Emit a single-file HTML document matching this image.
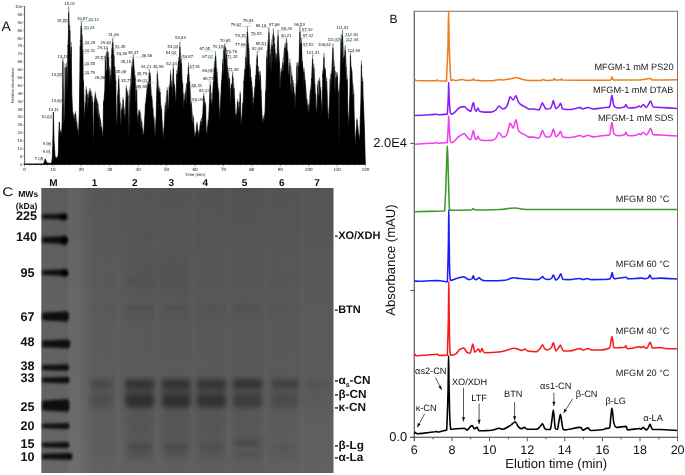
<!DOCTYPE html>
<html><head><meta charset="utf-8"><style>
html,body{margin:0;padding:0;background:#fff;}
svg{display:block;will-change:transform;text-rendering:geometricPrecision;}
</style></head><body>
<svg width="685" height="475" viewBox="0 0 685 475">
<rect width="685" height="475" fill="#fff"/>
<defs>
<linearGradient id="gh" x1="41.3" x2="333.5" y1="0" y2="0" gradientUnits="userSpaceOnUse"><stop offset="0.000" stop-color="#626262"/><stop offset="0.085" stop-color="#616161"/><stop offset="0.098" stop-color="#686868"/><stop offset="0.126" stop-color="#676767"/><stop offset="0.153" stop-color="#606060"/><stop offset="0.184" stop-color="#5c5c5c"/><stop offset="0.370" stop-color="#595959"/><stop offset="0.710" stop-color="#585858"/><stop offset="1.000" stop-color="#5a5a5a"/></linearGradient>
<linearGradient id="gv" x1="0" x2="0" y1="188" y2="473" gradientUnits="userSpaceOnUse"><stop offset="0" stop-color="#000" stop-opacity="0.06"/><stop offset="0.45" stop-color="#000" stop-opacity="0"/><stop offset="0.55" stop-color="#fff" stop-opacity="0"/><stop offset="1" stop-color="#fff" stop-opacity="0.035"/></linearGradient>
<radialGradient id="gr" cx="320" cy="440" r="60" gradientUnits="userSpaceOnUse"><stop offset="0" stop-color="#fff" stop-opacity="0.02"/><stop offset="1" stop-color="#fff" stop-opacity="0"/></radialGradient>
<filter id="b1" color-interpolation-filters="sRGB" x="-20%" y="-80%" width="140%" height="260%"><feGaussianBlur stdDeviation="1.3 1.5"/></filter>
<filter id="b2" color-interpolation-filters="sRGB" x="-30%" y="-100%" width="160%" height="300%"><feGaussianBlur stdDeviation="2.8 2.6"/></filter>
<filter id="b3" color-interpolation-filters="sRGB" x="-30%" y="-100%" width="160%" height="300%"><feGaussianBlur stdDeviation="3"/></filter>
</defs>
<rect x="41.3" y="188" width="292.2" height="285" fill="url(#gh)"/>
<rect x="41.3" y="188" width="292.2" height="285" fill="url(#gv)"/>
<rect x="41.3" y="188" width="292.2" height="285" fill="url(#gr)"/>
<rect x="115.5" y="190" width="5" height="282" fill="#fff" opacity="0.015"/>
<rect x="154.5" y="190" width="5" height="282" fill="#fff" opacity="0.015"/>
<rect x="190.5" y="190" width="5" height="282" fill="#fff" opacity="0.015"/>
<rect x="226.5" y="190" width="5" height="282" fill="#fff" opacity="0.015"/>
<rect x="263.5" y="190" width="5" height="282" fill="#fff" opacity="0.015"/>
<rect x="299.5" y="190" width="5" height="282" fill="#fff" opacity="0.015"/>
<g filter="url(#b1)">
<path d="M42.3,214.4 Q54.6,213.9 65.0,213.5 Q68.2,216.6 65.0,219.7 Q54.6,219.3 42.3,218.8 Z" fill="#0e0e0e"/>
<ellipse cx="63.5" cy="216.9" rx="4" ry="3.4" fill="#000"/>
<path d="M42.3,237.1 Q54.9,236.5 65.6,235.9 Q68.8,240.1 65.6,244.3 Q54.9,243.7 42.3,243.1 Z" fill="#0e0e0e"/>
<ellipse cx="64.1" cy="240.4" rx="4" ry="4.6" fill="#000"/>
<path d="M42.3,270.2 Q55.1,269.7 66.0,269.3 Q69.2,272.6 66.0,275.9 Q55.1,275.5 42.3,275.0 Z" fill="#0e0e0e"/>
<ellipse cx="64.5" cy="272.9" rx="4" ry="3.6" fill="#000"/>
<path d="M42.3,312.7 Q55.9,311.9 67.5,311.3 Q70.7,316.5 67.5,321.7 Q55.9,321.1 42.3,320.3 Z" fill="#0e0e0e"/>
<path d="M42.3,340.8 Q56.5,340.2 68.7,339.6 Q71.9,344.0 68.7,348.4 Q56.5,347.8 42.3,347.2 Z" fill="#0e0e0e"/>
<path d="M42.3,365.1 Q55.9,364.6 67.5,364.2 Q70.7,367.5 67.5,370.8 Q55.9,370.4 42.3,369.9 Z" fill="#0e0e0e"/>
<path d="M42.3,377.6 Q56.1,377.1 68.0,376.7 Q71.2,380.0 68.0,383.3 Q56.1,382.9 42.3,382.4 Z" fill="#0e0e0e"/>
<path d="M42.3,400.7 Q56.1,399.7 68.0,398.9 Q71.2,405.5 68.0,412.1 Q56.1,411.3 42.3,410.3 Z" fill="#0e0e0e"/>
<path d="M42.3,423.8 Q56.1,423.4 68.0,423.0 Q71.2,426.0 68.0,429.0 Q56.1,428.6 42.3,428.2 Z" fill="#0e0e0e"/>
<path d="M42.3,442.8 Q56.1,442.4 68.0,442.0 Q71.2,445.0 68.0,448.0 Q56.1,447.6 42.3,447.2 Z" fill="#0e0e0e"/>
<path d="M42.3,453.8 Q57.6,453.3 71.0,452.8 Q74.2,456.4 71.0,460.0 Q57.6,459.5 42.3,459.0 Z" fill="#0e0e0e"/>
</g>
<g filter="url(#b2)">
<rect x="90.0" y="379" width="23.0" height="9" rx="3" fill="#202020" opacity="0.30"/>
<rect x="90.0" y="395" width="23.0" height="12.5" rx="4" fill="#202020" opacity="0.24"/>
<rect x="90.0" y="386" width="23.0" height="11" fill="#2a2a2a" opacity="0.15"/>
<rect x="92.0" y="406" width="19.0" height="34" fill="#333" opacity="0.05"/>
<rect x="92.0" y="443.0" width="19.0" height="7" rx="2" fill="#2a2a2a" opacity="0.09"/>
<rect x="92.0" y="451.5" width="19.0" height="6" rx="2" fill="#2a2a2a" opacity="0.06"/>
<rect x="90.0" y="306.5" width="23.0" height="4.5" rx="2" fill="#2a2a2a" opacity="0.08"/>
<rect x="90.0" y="316" width="23.0" height="4" rx="2" fill="#2a2a2a" opacity="0.04"/>
<rect x="90.0" y="279" width="23.0" height="4" rx="2" fill="#2a2a2a" opacity="0.04"/>
<rect x="125.1" y="379" width="29.0" height="9" rx="3" fill="#202020" opacity="0.65"/>
<rect x="125.1" y="395" width="29.0" height="12.5" rx="4" fill="#202020" opacity="0.73"/>
<rect x="125.1" y="386" width="29.0" height="11" fill="#2a2a2a" opacity="0.44"/>
<rect x="127.1" y="406" width="25.0" height="34" fill="#333" opacity="0.16"/>
<rect x="127.1" y="443.0" width="25.0" height="7" rx="2" fill="#2a2a2a" opacity="0.41"/>
<rect x="127.1" y="451.5" width="25.0" height="6" rx="2" fill="#2a2a2a" opacity="0.27"/>
<rect x="125.1" y="306.5" width="29.0" height="4.5" rx="2" fill="#2a2a2a" opacity="0.25"/>
<rect x="125.1" y="316" width="29.0" height="4" rx="2" fill="#2a2a2a" opacity="0.12"/>
<rect x="125.1" y="279" width="29.0" height="4" rx="2" fill="#2a2a2a" opacity="0.12"/>
<rect x="161.7" y="379" width="29.0" height="9" rx="3" fill="#202020" opacity="0.65"/>
<rect x="161.7" y="395" width="29.0" height="12.5" rx="4" fill="#202020" opacity="0.73"/>
<rect x="161.7" y="386" width="29.0" height="11" fill="#2a2a2a" opacity="0.44"/>
<rect x="163.7" y="406" width="25.0" height="34" fill="#333" opacity="0.16"/>
<rect x="163.7" y="443.0" width="25.0" height="7" rx="2" fill="#2a2a2a" opacity="0.38"/>
<rect x="163.7" y="451.5" width="25.0" height="6" rx="2" fill="#2a2a2a" opacity="0.25"/>
<rect x="161.7" y="306.5" width="29.0" height="4.5" rx="2" fill="#2a2a2a" opacity="0.22"/>
<rect x="161.7" y="316" width="29.0" height="4" rx="2" fill="#2a2a2a" opacity="0.11"/>
<rect x="161.7" y="279" width="29.0" height="4" rx="2" fill="#2a2a2a" opacity="0.11"/>
<rect x="196.8" y="379" width="29.0" height="9" rx="3" fill="#202020" opacity="0.63"/>
<rect x="196.8" y="395" width="29.0" height="12.5" rx="4" fill="#202020" opacity="0.67"/>
<rect x="196.8" y="386" width="29.0" height="11" fill="#2a2a2a" opacity="0.41"/>
<rect x="198.8" y="406" width="25.0" height="34" fill="#333" opacity="0.14"/>
<rect x="198.8" y="443.0" width="25.0" height="7" rx="2" fill="#2a2a2a" opacity="0.29"/>
<rect x="198.8" y="451.5" width="25.0" height="6" rx="2" fill="#2a2a2a" opacity="0.19"/>
<rect x="196.8" y="306.5" width="29.0" height="4.5" rx="2" fill="#2a2a2a" opacity="0.18"/>
<rect x="196.8" y="316" width="29.0" height="4" rx="2" fill="#2a2a2a" opacity="0.09"/>
<rect x="196.8" y="279" width="29.0" height="4" rx="2" fill="#2a2a2a" opacity="0.09"/>
<rect x="233.0" y="379" width="29.0" height="9" rx="3" fill="#202020" opacity="0.66"/>
<rect x="233.0" y="395" width="29.0" height="12.5" rx="4" fill="#202020" opacity="0.50"/>
<rect x="233.0" y="386" width="29.0" height="11" fill="#2a2a2a" opacity="0.31"/>
<rect x="235.0" y="406" width="25.0" height="34" fill="#333" opacity="0.11"/>
<rect x="235.0" y="440.0" width="25.0" height="7" rx="2" fill="#2a2a2a" opacity="0.38"/>
<rect x="235.0" y="451.5" width="25.0" height="6" rx="2" fill="#2a2a2a" opacity="0.25"/>
<rect x="233.0" y="306.5" width="29.0" height="4.5" rx="2" fill="#2a2a2a" opacity="0.22"/>
<rect x="233.0" y="316" width="29.0" height="4" rx="2" fill="#2a2a2a" opacity="0.11"/>
<rect x="233.0" y="279" width="29.0" height="4" rx="2" fill="#2a2a2a" opacity="0.11"/>
<rect x="271.5" y="379" width="27.0" height="9" rx="3" fill="#202020" opacity="0.43"/>
<rect x="271.5" y="395" width="27.0" height="12.5" rx="4" fill="#202020" opacity="0.26"/>
<rect x="271.5" y="386" width="27.0" height="11" fill="#2a2a2a" opacity="0.16"/>
<rect x="273.5" y="406" width="23.0" height="34" fill="#333" opacity="0.06"/>
<rect x="273.5" y="443.0" width="23.0" height="7" rx="2" fill="#2a2a2a" opacity="0.16"/>
<rect x="273.5" y="451.5" width="23.0" height="6" rx="2" fill="#2a2a2a" opacity="0.11"/>
<rect x="271.5" y="306.5" width="27.0" height="4.5" rx="2" fill="#2a2a2a" opacity="0.08"/>
<rect x="271.5" y="316" width="27.0" height="4" rx="2" fill="#2a2a2a" opacity="0.04"/>
<rect x="271.5" y="279" width="27.0" height="4" rx="2" fill="#2a2a2a" opacity="0.04"/>
<rect x="306.0" y="379" width="24.0" height="9" rx="3" fill="#202020" opacity="0.10"/>
<rect x="306.0" y="395" width="24.0" height="12.5" rx="4" fill="#202020" opacity="0.04"/>
<rect x="306.0" y="386" width="24.0" height="11" fill="#2a2a2a" opacity="0.03"/>
<rect x="308.0" y="406" width="20.0" height="34" fill="#333" opacity="0.01"/>
<rect x="308.0" y="443.0" width="20.0" height="7" rx="2" fill="#2a2a2a" opacity="0.05"/>
<rect x="308.0" y="451.5" width="20.0" height="6" rx="2" fill="#2a2a2a" opacity="0.03"/>
<rect x="306.0" y="306.5" width="24.0" height="4.5" rx="2" fill="#2a2a2a" opacity="0.00"/>
<rect x="306.0" y="316" width="24.0" height="4" rx="2" fill="#2a2a2a" opacity="0.00"/>
<rect x="306.0" y="279" width="24.0" height="4" rx="2" fill="#2a2a2a" opacity="0.00"/>
</g>
<g filter="url(#b3)">
<rect x="127" y="255" width="60" height="40" fill="#333" opacity="0.06"/>
<rect x="130" y="232" width="30" height="4" fill="#333" opacity="0.15"/>
</g>
<text x="2.2" y="196.3" font-size="12.4" fill="#111" transform="translate(2.2,0) scale(1.25,1) translate(-2.2,0)" font-family="Liberation Sans, sans-serif">C</text>
<text x="18.2" y="196.5" font-size="8.6" font-weight="bold" fill="#111" font-family="Liberation Sans, sans-serif">MWs</text>
<text x="15.8" y="209" font-size="8.6" font-weight="bold" fill="#111" font-family="Liberation Sans, sans-serif">(kDa)</text>
<text x="26.6" y="220.1" font-size="12.6" font-weight="bold" text-anchor="middle" fill="#111" font-family="Liberation Sans, sans-serif">225</text>
<text x="26.6" y="240.9" font-size="12.6" font-weight="bold" text-anchor="middle" fill="#111" font-family="Liberation Sans, sans-serif">140</text>
<text x="27.4" y="276.7" font-size="12.6" font-weight="bold" text-anchor="middle" fill="#111" font-family="Liberation Sans, sans-serif">95</text>
<text x="27.4" y="320.5" font-size="12.6" font-weight="bold" text-anchor="middle" fill="#111" font-family="Liberation Sans, sans-serif">67</text>
<text x="27.4" y="346.3" font-size="12.6" font-weight="bold" text-anchor="middle" fill="#111" font-family="Liberation Sans, sans-serif">48</text>
<text x="27.4" y="369.9" font-size="12.6" font-weight="bold" text-anchor="middle" fill="#111" font-family="Liberation Sans, sans-serif">38</text>
<text x="27.4" y="382.3" font-size="12.6" font-weight="bold" text-anchor="middle" fill="#111" font-family="Liberation Sans, sans-serif">33</text>
<text x="27.4" y="410.6" font-size="12.6" font-weight="bold" text-anchor="middle" fill="#111" font-family="Liberation Sans, sans-serif">25</text>
<text x="27.4" y="429.5" font-size="12.6" font-weight="bold" text-anchor="middle" fill="#111" font-family="Liberation Sans, sans-serif">20</text>
<text x="27.4" y="447.5" font-size="12.6" font-weight="bold" text-anchor="middle" fill="#111" font-family="Liberation Sans, sans-serif">15</text>
<text x="27.4" y="461.3" font-size="12.6" font-weight="bold" text-anchor="middle" fill="#111" font-family="Liberation Sans, sans-serif">10</text>
<text x="53.5" y="186" font-size="10" font-weight="bold" text-anchor="middle" fill="#111" font-family="Liberation Sans, sans-serif">M</text>
<text x="94.6" y="186" font-size="10" font-weight="bold" text-anchor="middle" fill="#111" font-family="Liberation Sans, sans-serif">1</text>
<text x="134.7" y="186" font-size="10" font-weight="bold" text-anchor="middle" fill="#111" font-family="Liberation Sans, sans-serif">2</text>
<text x="171.3" y="186" font-size="10" font-weight="bold" text-anchor="middle" fill="#111" font-family="Liberation Sans, sans-serif">3</text>
<text x="205.4" y="186" font-size="10" font-weight="bold" text-anchor="middle" fill="#111" font-family="Liberation Sans, sans-serif">4</text>
<text x="244.6" y="186" font-size="10" font-weight="bold" text-anchor="middle" fill="#111" font-family="Liberation Sans, sans-serif">5</text>
<text x="281.8" y="186" font-size="10" font-weight="bold" text-anchor="middle" fill="#111" font-family="Liberation Sans, sans-serif">6</text>
<text x="317.0" y="186" font-size="10" font-weight="bold" text-anchor="middle" fill="#111" font-family="Liberation Sans, sans-serif">7</text>
<text x="334.5" y="238.6" font-size="11" font-weight="bold" fill="#111" font-family="Liberation Sans, sans-serif">-XO/XDH</text>
<text x="334.5" y="313.3" font-size="11" font-weight="bold" fill="#111" font-family="Liberation Sans, sans-serif">-BTN</text>
<text x="334.5" y="398.3" font-size="11.8" font-weight="bold" fill="#111" font-family="Liberation Sans, sans-serif">-β-CN</text>
<text x="334.5" y="411.3" font-size="11.8" font-weight="bold" fill="#111" font-family="Liberation Sans, sans-serif">-κ-CN</text>
<text x="334.5" y="448.9" font-size="11.8" font-weight="bold" fill="#111" font-family="Liberation Sans, sans-serif">-β-Lg</text>
<text x="334.5" y="460.9" font-size="11.8" font-weight="bold" fill="#111" font-family="Liberation Sans, sans-serif">-α-La</text>
<text x="334.5" y="384.4" font-size="11.8" font-weight="bold" fill="#111" font-family="Liberation Sans, sans-serif">-α<tspan font-size="7" dy="2.5">s</tspan><tspan dy="-2.5">-CN</tspan></text>
<path d="M24.5,164.2 L24.50,164.20 L24.95,164.20 L25.40,164.19 L25.85,164.19 L26.30,164.18 L26.75,164.18 L27.20,164.17 L27.65,164.17 L28.10,164.16 L28.55,164.16 L29.00,164.15 L29.45,164.15 L29.90,164.14 L30.35,164.14 L30.80,164.13 L31.25,164.13 L31.70,164.12 L32.15,164.12 L32.60,164.11 L33.05,164.11 L33.50,164.11 L33.95,164.10 L34.40,164.10 L34.85,164.09 L35.30,164.09 L35.75,164.08 L36.20,164.08 L36.65,164.07 L37.10,164.07 L37.55,164.06 L38.00,164.06 L38.45,164.05 L38.90,164.05 L39.35,164.04 L39.80,164.04 L40.25,164.03 L40.70,164.03 L41.15,164.02 L41.60,164.02 L42.05,164.02 L42.50,164.01 L42.95,164.01 L43.40,164.00 L43.50,164.00 L43.85,163.12 L44.30,162.00 L44.75,160.40 L45.20,158.80 L45.65,160.04 L46.00,161.00 L46.10,161.20 L46.55,162.10 L47.00,163.00 L47.45,163.05 L47.90,163.10 L48.35,163.15 L48.80,163.20 L49.25,163.25 L49.70,163.30 L50.15,163.35 L50.60,163.40 L51.05,163.45 L51.50,163.50 L51.95,160.41 L52.30,158.00 L52.40,155.40 L52.80,145.00 L52.85,142.25 L53.30,117.50 L53.40,112.00 L53.75,128.33 L54.00,140.00 L54.20,143.30 L54.65,150.73 L55.00,156.50 L55.10,156.60 L55.55,157.05 L56.00,157.50 L56.45,157.95 L56.90,158.40 L57.00,158.50 L57.35,157.56 L57.80,156.35 L58.25,155.13 L58.30,155.00 L58.70,138.20 L58.80,134.00 L59.15,125.60 L59.30,122.00 L59.60,128.60 L59.80,133.00 L60.05,132.50 L60.50,132.09 L60.70,130.00 L60.95,131.89 L61.40,132.64 L61.50,133.00 L61.85,127.01 L62.20,121.00 L62.30,111.93 L62.75,72.63 L62.90,57.30 L63.20,80.01 L63.60,110.00 L63.65,112.69 L64.10,117.44 L64.50,120.50 L64.55,120.38 L65.00,79.80 L65.10,63.60 L65.45,82.09 L65.70,95.00 L65.90,87.66 L66.35,69.07 L66.50,62.70 L66.80,76.66 L67.25,90.57 L67.30,90.00 L67.70,61.47 L68.00,40.00 L68.15,38.86 L68.60,12.63 L68.70,6.30 L69.05,20.23 L69.30,25.00 L69.50,33.78 L69.90,25.00 L69.95,27.90 L70.40,49.10 L70.50,50.00 L70.85,52.76 L71.30,42.00 L71.30,53.74 L71.75,83.19 L71.90,95.00 L72.20,100.15 L72.65,107.51 L72.80,110.00 L73.10,114.11 L73.55,116.46 L74.00,114.00 L74.45,115.57 L74.90,113.95 L75.35,115.03 L75.50,111.00 L75.80,114.40 L76.25,116.64 L76.70,120.00 L77.15,124.61 L77.60,128.36 L78.05,129.17 L78.50,131.52 L78.70,132.80 L78.95,121.11 L79.40,99.75 L79.50,95.00 L79.85,71.09 L80.30,40.00 L80.30,41.90 L80.75,30.39 L81.20,20.60 L81.65,30.06 L82.00,30.00 L82.10,40.76 L82.55,41.27 L82.80,45.00 L83.00,56.41 L83.45,85.45 L83.50,80.00 L83.90,96.92 L84.35,115.78 L84.40,117.60 L84.80,111.67 L85.25,100.98 L85.30,100.00 L85.70,95.23 L86.15,94.77 L86.25,86.40 L86.60,89.87 L87.05,93.09 L87.50,97.41 L87.95,98.80 L88.10,94.00 L88.40,94.15 L88.85,91.71 L89.30,90.24 L89.75,89.12 L90.00,88.00 L90.20,89.43 L90.65,89.81 L91.10,91.14 L91.55,92.33 L91.90,93.30 L92.00,96.89 L92.45,98.98 L92.60,100.00 L92.90,117.98 L93.35,144.90 L93.40,146.30 L93.80,124.04 L94.20,100.00 L94.25,99.66 L94.70,96.89 L95.15,97.49 L95.30,91.40 L95.60,92.63 L96.05,96.41 L96.50,98.31 L96.95,99.99 L97.40,104.77 L97.60,100.80 L97.85,102.75 L98.30,105.24 L98.75,109.42 L99.20,111.15 L99.65,116.67 L100.10,119.57 L100.40,117.90 L100.55,121.96 L101.00,122.22 L101.45,125.58 L101.90,128.16 L102.35,131.46 L102.80,137.05 L102.90,135.00 L103.25,118.94 L103.50,100.00 L103.70,104.64 L104.15,96.00 L104.40,94.00 L104.60,86.50 L105.05,72.37 L105.40,55.00 L105.50,62.37 L105.95,57.72 L106.40,51.40 L106.85,59.14 L107.30,48.00 L107.75,56.07 L108.20,51.61 L108.60,52.70 L108.65,54.58 L109.10,69.14 L109.55,66.71 L110.00,75.88 L110.20,73.60 L110.45,69.54 L110.90,70.20 L111.35,54.48 L111.80,57.96 L112.00,43.30 L112.25,43.38 L112.70,39.52 L113.00,37.60 L113.15,51.53 L113.60,49.67 L113.90,50.80 L114.05,54.99 L114.50,66.34 L114.95,66.07 L115.40,72.26 L115.80,77.30 L115.85,81.30 L116.30,111.82 L116.50,125.50 L116.75,119.20 L117.20,108.22 L117.65,95.12 L117.70,92.50 L118.10,87.68 L118.55,80.41 L118.70,75.50 L119.00,82.76 L119.45,89.63 L119.90,98.31 L120.00,100.00 L120.35,117.77 L120.50,121.70 L120.80,118.09 L121.25,113.05 L121.50,108.00 L121.70,106.69 L122.15,103.91 L122.60,104.24 L123.05,99.45 L123.10,97.00 L123.50,105.53 L123.95,106.07 L124.40,108.89 L124.85,112.09 L125.00,112.20 L125.30,107.25 L125.75,99.82 L126.20,93.94 L126.30,85.00 L126.65,88.89 L127.10,93.69 L127.55,90.32 L128.00,92.12 L128.10,92.50 L128.45,113.78 L128.80,135.00 L128.90,133.02 L129.35,113.03 L129.80,97.86 L130.00,86.80 L130.25,89.85 L130.70,78.15 L131.15,73.37 L131.60,75.70 L131.90,62.20 L132.05,61.71 L132.50,61.95 L132.95,57.29 L133.40,54.60 L133.85,65.53 L134.30,68.62 L134.75,71.09 L134.80,71.70 L135.20,78.36 L135.65,78.49 L136.10,87.14 L136.55,85.69 L136.70,86.80 L137.00,101.41 L137.30,116.00 L137.45,115.78 L137.90,114.61 L138.35,115.49 L138.80,110.39 L139.00,109.50 L139.25,111.40 L139.70,109.89 L140.00,110.00 L140.15,113.42 L140.60,113.59 L141.05,118.17 L141.50,118.94 L141.60,119.50 L141.95,121.98 L142.40,125.94 L142.85,129.40 L143.30,131.71 L143.75,135.47 L143.80,135.00 L144.20,126.92 L144.65,117.75 L145.10,109.14 L145.40,102.50 L145.55,104.79 L146.00,98.81 L146.45,93.96 L146.90,89.55 L147.30,85.50 L147.35,89.33 L147.80,81.56 L148.25,85.03 L148.70,79.71 L149.15,72.14 L149.20,69.40 L149.60,71.97 L150.05,76.15 L150.20,72.20 L150.50,77.33 L150.95,86.53 L151.40,89.84 L151.85,94.77 L152.00,96.80 L152.30,99.83 L152.75,104.69 L153.20,108.84 L153.65,117.16 L153.90,115.80 L154.10,119.39 L154.55,126.63 L155.00,133.65 L155.20,136.80 L155.45,129.13 L155.90,119.32 L156.35,100.76 L156.80,86.88 L157.25,71.88 L157.30,70.30 L157.70,76.66 L158.15,79.87 L158.60,84.41 L158.70,85.50 L159.05,86.56 L159.50,87.79 L159.95,89.75 L160.00,89.20 L160.40,96.18 L160.85,102.57 L161.30,107.11 L161.50,106.30 L161.75,111.87 L162.20,123.96 L162.65,130.11 L163.10,136.80 L163.55,129.79 L164.00,126.06 L164.45,118.36 L164.90,108.84 L165.30,102.50 L165.35,103.68 L165.80,102.75 L166.25,97.26 L166.70,94.70 L167.15,88.10 L167.20,87.30 L167.60,93.19 L168.05,99.63 L168.40,104.60 L168.50,103.82 L168.95,92.52 L169.10,85.50 L169.40,84.42 L169.85,83.39 L170.30,75.64 L170.60,70.30 L170.75,75.85 L171.20,81.20 L171.65,81.09 L171.90,83.60 L172.10,85.49 L172.55,80.23 L173.00,71.97 L173.40,64.60 L173.45,67.68 L173.90,78.09 L174.35,83.48 L174.80,87.30 L175.25,91.85 L175.70,99.84 L176.00,99.00 L176.15,95.15 L176.60,74.43 L176.70,70.30 L177.05,72.20 L177.50,69.24 L177.95,64.29 L178.40,60.70 L178.60,57.00 L178.85,62.89 L179.30,59.90 L179.75,43.65 L179.90,41.90 L180.20,53.31 L180.65,52.75 L181.10,56.06 L181.40,59.00 L181.55,62.09 L182.00,69.73 L182.45,85.32 L182.80,83.60 L182.90,89.90 L183.35,94.72 L183.80,93.41 L184.20,96.80 L184.25,98.15 L184.70,94.27 L185.15,93.45 L185.60,89.85 L185.70,89.20 L186.05,87.20 L186.50,82.84 L186.95,85.25 L187.40,83.29 L187.60,74.10 L187.85,78.51 L188.30,66.60 L188.50,62.70 L188.75,76.25 L189.20,74.52 L189.50,77.90 L189.65,80.48 L190.10,85.75 L190.55,92.09 L191.00,97.74 L191.40,102.50 L191.45,104.45 L191.90,106.81 L192.35,113.45 L192.80,114.37 L193.25,119.76 L193.30,115.80 L193.70,123.28 L194.15,128.95 L194.60,134.64 L194.90,136.80 L195.05,135.90 L195.50,135.01 L195.95,129.66 L196.40,125.82 L196.85,126.09 L196.90,121.70 L197.30,126.41 L197.75,129.22 L198.20,131.58 L198.40,133.00 L198.65,131.71 L199.10,129.85 L199.55,129.50 L200.00,124.63 L200.45,121.39 L200.70,119.80 L200.90,119.72 L201.35,118.08 L201.80,117.99 L202.25,117.83 L202.60,114.00 L202.70,112.98 L203.15,104.36 L203.60,94.94 L203.70,93.00 L204.05,101.25 L204.50,98.70 L204.95,104.09 L205.40,101.96 L205.60,102.50 L205.85,112.86 L206.30,132.37 L206.40,133.00 L206.75,132.81 L207.20,126.65 L207.65,126.37 L208.10,121.03 L208.30,117.90 L208.55,114.15 L209.00,109.25 L209.45,103.43 L209.90,89.03 L210.30,81.70 L210.35,84.34 L210.80,92.63 L211.25,92.39 L211.70,94.32 L212.15,96.41 L212.20,96.80 L212.60,90.42 L213.05,85.80 L213.50,74.91 L213.95,71.07 L214.10,64.60 L214.40,62.09 L214.85,60.92 L215.30,55.70 L215.60,51.40 L215.75,57.37 L216.20,60.20 L216.65,74.24 L216.90,68.40 L217.10,78.09 L217.55,76.65 L218.00,89.17 L218.45,87.65 L218.80,91.10 L218.90,95.95 L219.35,109.21 L219.60,116.00 L219.80,114.53 L220.25,104.00 L220.70,95.95 L221.15,90.25 L221.50,80.00 L221.60,83.56 L222.05,71.91 L222.50,70.62 L222.60,59.00 L222.95,62.73 L223.40,51.37 L223.85,47.24 L223.90,45.70 L224.30,47.80 L224.75,44.52 L225.00,43.40 L225.20,49.58 L225.65,46.48 L226.10,48.72 L226.40,49.50 L226.55,51.51 L227.00,56.65 L227.45,70.20 L227.80,66.10 L227.90,71.93 L228.35,77.63 L228.80,72.42 L229.25,79.78 L229.70,77.50 L229.70,81.33 L230.15,98.75 L230.30,104.60 L230.60,96.39 L231.00,85.00 L231.05,85.21 L231.50,88.48 L231.95,85.26 L232.40,74.60 L232.60,71.80 L232.85,80.09 L233.30,77.98 L233.75,83.06 L234.10,85.00 L234.20,87.23 L234.65,101.17 L235.10,105.38 L235.55,116.10 L235.70,116.00 L236.00,113.32 L236.45,113.94 L236.90,108.55 L237.35,101.96 L237.60,99.00 L237.80,105.63 L238.25,101.75 L238.70,103.54 L239.00,104.00 L239.15,102.35 L239.60,103.01 L240.05,98.83 L240.20,90.80 L240.50,99.36 L240.95,116.14 L241.40,123.60 L241.85,116.03 L242.30,108.06 L242.75,104.35 L243.20,95.16 L243.65,87.67 L243.90,77.50 L244.10,78.20 L244.55,70.06 L245.00,69.43 L245.45,57.85 L245.80,52.90 L245.90,51.82 L246.35,43.20 L246.80,36.60 L247.25,37.97 L247.30,26.40 L247.70,32.19 L248.15,36.84 L248.60,48.33 L248.70,43.40 L249.05,49.63 L249.50,60.36 L249.95,69.04 L250.00,64.20 L250.40,72.00 L250.85,78.27 L251.30,78.57 L251.50,77.50 L251.75,85.00 L252.20,86.20 L252.65,91.17 L253.10,98.55 L253.40,99.80 L253.55,99.07 L254.00,94.55 L254.45,92.42 L254.90,90.15 L255.35,78.74 L255.50,75.00 L255.80,77.37 L256.25,64.43 L256.70,58.21 L257.15,62.36 L257.20,51.00 L257.60,64.94 L258.05,68.40 L258.50,66.40 L258.70,68.00 L258.95,77.06 L259.40,72.77 L259.85,70.74 L260.30,71.39 L260.40,71.40 L260.75,81.04 L261.00,87.00 L261.20,94.95 L261.65,102.85 L262.10,116.14 L262.30,118.70 L262.55,118.58 L263.00,120.08 L263.45,116.10 L263.90,115.82 L264.35,116.08 L264.80,113.00 L265.25,98.94 L265.70,85.87 L266.15,71.19 L266.60,57.12 L266.70,52.90 L267.05,50.30 L267.50,52.60 L267.95,40.02 L268.40,40.07 L268.85,27.88 L268.90,27.30 L269.30,35.58 L269.75,41.94 L270.20,49.06 L270.50,51.00 L270.65,49.78 L271.10,50.96 L271.55,42.55 L271.90,39.60 L272.00,40.57 L272.45,35.73 L272.90,35.66 L273.35,28.84 L273.40,28.30 L273.80,40.35 L274.25,36.19 L274.70,39.60 L274.70,50.68 L275.15,48.93 L275.60,62.31 L276.00,58.60 L276.05,66.58 L276.50,59.16 L276.95,52.46 L277.40,40.77 L277.85,41.40 L278.00,30.20 L278.30,36.49 L278.75,47.61 L279.20,53.09 L279.50,58.60 L279.65,68.43 L280.10,76.69 L280.30,82.70 L280.55,82.43 L281.00,68.00 L281.45,72.69 L281.90,67.17 L282.35,65.37 L282.80,60.95 L282.90,58.60 L283.25,57.76 L283.70,54.44 L284.15,48.61 L284.60,47.86 L284.80,43.40 L285.05,49.74 L285.50,43.88 L285.95,42.73 L286.40,38.81 L286.70,37.70 L286.85,39.56 L287.30,47.83 L287.75,54.60 L288.00,52.90 L288.20,63.26 L288.65,70.45 L288.80,71.40 L289.10,70.35 L289.55,71.85 L289.90,58.60 L290.00,67.00 L290.45,67.88 L290.90,65.92 L291.35,70.98 L291.80,71.80 L292.25,82.03 L292.70,82.61 L293.15,79.94 L293.60,87.27 L293.70,83.20 L294.05,92.34 L294.50,94.69 L294.95,95.19 L295.40,97.37 L295.50,97.90 L295.85,90.93 L296.30,77.57 L296.75,66.37 L296.90,62.30 L297.20,67.01 L297.65,62.59 L298.10,62.43 L298.40,62.30 L298.55,62.98 L299.00,56.80 L299.45,41.44 L299.90,26.40 L299.90,26.55 L300.35,35.35 L300.80,41.97 L301.25,49.75 L301.30,37.70 L301.70,46.81 L302.15,55.94 L302.60,62.30 L303.05,69.55 L303.50,72.34 L303.95,71.38 L304.10,68.00 L304.40,74.24 L304.85,76.47 L305.30,80.17 L305.60,83.20 L305.75,87.74 L306.20,91.26 L306.65,93.98 L306.90,96.40 L307.10,101.61 L307.55,104.27 L307.80,107.30 L308.00,106.48 L308.45,104.73 L308.90,104.58 L309.00,102.00 L309.35,101.16 L309.80,94.38 L310.25,90.33 L310.60,86.50 L310.70,84.99 L311.15,84.34 L311.60,72.16 L312.05,63.52 L312.50,59.79 L312.60,54.80 L312.95,61.79 L313.40,69.68 L313.85,64.46 L313.90,64.20 L314.30,70.87 L314.75,79.75 L315.20,85.84 L315.50,90.80 L315.65,94.59 L316.10,111.11 L316.30,111.00 L316.55,106.28 L317.00,98.86 L317.45,93.26 L317.80,81.30 L317.90,81.90 L318.35,80.22 L318.80,84.50 L319.25,78.40 L319.70,77.50 L320.15,86.35 L320.60,90.35 L320.70,87.00 L321.05,96.45 L321.20,100.00 L321.50,103.07 L321.95,107.49 L322.00,107.30 L322.40,92.30 L322.80,70.00 L322.85,74.03 L323.30,65.35 L323.75,62.01 L323.90,52.90 L324.20,56.68 L324.65,70.11 L325.10,72.66 L325.40,68.00 L325.55,69.74 L326.00,77.47 L326.45,80.60 L326.70,77.50 L326.90,88.16 L327.35,91.82 L327.80,103.54 L328.25,113.02 L328.50,116.00 L328.70,112.41 L329.15,103.65 L329.60,91.28 L330.05,81.93 L330.20,75.60 L330.50,74.88 L330.95,72.86 L331.40,71.31 L331.70,70.00 L331.85,67.04 L332.30,58.99 L332.75,48.52 L333.00,43.40 L333.20,51.96 L333.65,58.26 L334.10,59.44 L334.30,62.30 L334.55,65.52 L335.00,74.11 L335.45,71.08 L335.80,73.70 L335.90,81.15 L336.35,73.11 L336.80,72.55 L337.25,78.50 L337.30,71.80 L337.70,81.34 L338.15,87.86 L338.50,90.00 L338.60,102.46 L339.00,152.00 L339.05,147.83 L339.50,100.98 L339.60,90.00 L339.95,76.94 L340.40,60.96 L340.85,44.97 L341.10,34.00 L341.30,45.61 L341.75,41.80 L342.20,31.03 L342.50,30.20 L342.65,35.32 L343.10,42.16 L343.55,51.88 L343.80,52.90 L344.00,60.24 L344.45,57.31 L344.90,47.33 L345.30,45.30 L345.35,52.96 L345.80,53.27 L346.25,62.96 L346.70,67.96 L347.15,75.88 L347.20,75.60 L347.60,92.72 L348.05,111.37 L348.40,125.50 L348.50,125.19 L348.95,112.81 L349.40,102.36 L349.50,100.00 L349.85,84.99 L350.30,60.69 L350.40,51.00 L350.75,57.18 L351.20,69.30 L351.65,74.52 L351.90,70.00 L352.10,72.58 L352.55,84.19 L353.00,83.22 L353.45,87.39 L353.80,90.80 L353.90,97.06 L354.35,117.31 L354.80,134.25 L355.00,142.50 L355.25,139.50 L355.70,135.25 L356.15,128.52 L356.60,125.37 L357.00,118.00 L357.05,118.48 L357.50,125.34 L357.95,125.81 L358.40,131.03 L358.85,133.01 L359.30,136.73 L359.75,140.85 L359.80,140.60 L360.20,121.04 L360.65,104.34 L361.10,75.61 L361.40,60.50 L361.55,62.57 L362.00,77.62 L362.45,79.07 L362.70,77.50 L362.90,83.98 L363.35,97.62 L363.80,112.21 L364.25,125.29 L364.50,133.00 L364.70,140.80 L365.30,164.20 L365.3,164.2 Z" fill="#000" fill-opacity="0.5" stroke="#000" stroke-opacity="0.5" stroke-width="0.5" stroke-linejoin="round"/>
<path d="M24.5,164.2 L24.50,164.20 L24.95,164.20 L25.40,164.19 L25.85,164.19 L26.30,164.18 L26.75,164.18 L27.20,164.17 L27.65,164.17 L28.10,164.16 L28.55,164.16 L29.00,164.15 L29.45,164.15 L29.90,164.14 L30.35,164.14 L30.80,164.13 L31.25,164.13 L31.70,164.12 L32.15,164.12 L32.60,164.11 L33.05,164.11 L33.50,164.11 L33.95,164.10 L34.40,164.10 L34.85,164.09 L35.30,164.09 L35.75,164.08 L36.20,164.08 L36.65,164.07 L37.10,164.07 L37.55,164.06 L38.00,164.06 L38.45,164.05 L38.90,164.05 L39.35,164.04 L39.80,164.04 L40.25,164.03 L40.70,164.03 L41.15,164.02 L41.60,164.02 L42.05,164.02 L42.50,164.01 L42.95,164.01 L43.40,164.00 L43.50,164.00 L43.85,163.12 L44.30,162.00 L44.75,160.40 L45.20,158.80 L45.65,160.04 L46.00,161.00 L46.10,161.20 L46.55,162.10 L47.00,163.00 L47.45,163.05 L47.90,163.10 L48.35,163.15 L48.80,163.20 L49.25,163.25 L49.70,163.30 L50.15,163.35 L50.60,163.40 L51.05,163.45 L51.50,163.50 L51.95,160.41 L52.30,158.00 L52.40,155.40 L52.80,145.00 L52.85,142.25 L53.30,117.50 L53.40,112.00 L53.75,128.33 L54.00,140.00 L54.20,143.30 L54.65,150.73 L55.00,156.50 L55.10,156.60 L55.55,157.05 L56.00,157.50 L56.45,157.95 L56.90,158.40 L57.00,158.50 L57.35,157.56 L57.80,156.35 L58.25,155.13 L58.30,155.00 L58.70,138.20 L58.80,134.00 L59.15,125.60 L59.30,122.00 L59.60,128.60 L59.80,133.00 L60.05,134.18 L60.50,132.49 L60.70,131.37 L60.95,134.22 L61.40,136.71 L61.50,134.25 L61.85,131.20 L62.20,122.73 L62.30,114.83 L62.75,91.04 L62.90,61.58 L63.20,86.06 L63.60,112.17 L63.65,124.15 L64.10,120.91 L64.50,122.25 L64.55,118.29 L65.00,80.76 L65.10,67.62 L65.45,86.76 L65.70,97.77 L65.90,103.32 L66.35,82.84 L66.50,66.76 L66.80,82.06 L67.25,92.35 L67.30,92.97 L67.70,68.68 L68.00,44.97 L68.15,47.43 L68.60,33.86 L68.70,12.62 L69.05,29.87 L69.30,30.57 L69.50,49.86 L69.90,30.57 L69.95,47.07 L70.40,73.07 L70.50,54.57 L70.85,56.39 L71.30,46.89 L71.30,49.20 L71.75,97.82 L71.90,97.77 L72.20,108.04 L72.65,117.15 L72.80,112.17 L73.10,118.74 L73.55,117.08 L74.00,116.01 L74.45,120.81 L74.90,118.33 L75.35,124.63 L75.50,113.13 L75.80,121.86 L76.25,125.15 L76.70,121.77 L77.15,133.94 L77.60,128.97 L78.05,134.70 L78.50,135.41 L78.70,134.06 L78.95,123.53 L79.40,112.50 L79.50,97.77 L79.85,78.13 L80.30,44.97 L80.30,68.44 L80.75,45.86 L81.20,26.34 L81.65,58.07 L82.00,35.37 L82.10,61.87 L82.55,53.80 L82.80,49.77 L83.00,80.43 L83.45,82.95 L83.50,83.37 L83.90,101.74 L84.35,121.56 L84.40,119.46 L84.80,114.11 L85.25,107.91 L85.30,102.57 L85.70,104.33 L86.15,101.29 L86.25,89.51 L86.60,99.81 L87.05,93.62 L87.50,106.18 L87.95,108.03 L88.10,96.81 L88.40,100.55 L88.85,103.32 L89.30,94.19 L89.75,93.64 L90.00,91.05 L90.20,92.54 L90.65,94.50 L91.10,98.25 L91.55,108.85 L91.90,96.14 L92.00,98.64 L92.45,104.80 L92.60,102.57 L92.90,120.15 L93.35,148.97 L93.40,147.02 L93.80,128.24 L94.20,102.57 L94.25,103.30 L94.70,101.54 L95.15,97.18 L95.30,94.31 L95.60,110.81 L96.05,98.81 L96.50,99.77 L96.95,115.51 L97.40,111.40 L97.60,103.34 L97.85,108.44 L98.30,116.85 L98.75,119.17 L99.20,114.50 L99.65,126.81 L100.10,126.14 L100.40,119.75 L100.55,127.53 L101.00,127.57 L101.45,127.08 L101.90,131.13 L102.35,137.07 L102.80,137.78 L102.90,136.17 L103.25,127.78 L103.50,102.57 L103.70,105.12 L104.15,100.72 L104.40,96.81 L104.60,91.69 L105.05,91.38 L105.40,59.37 L105.50,68.11 L105.95,76.03 L106.40,70.29 L106.85,72.82 L107.30,52.65 L107.75,63.69 L108.20,74.32 L108.60,57.16 L108.65,76.37 L109.10,70.23 L109.55,90.15 L110.00,77.09 L110.20,77.22 L110.45,75.36 L110.90,83.25 L111.35,77.92 L111.80,66.32 L112.00,48.14 L112.25,58.93 L112.70,45.60 L113.00,42.66 L113.15,60.35 L113.60,75.67 L113.90,55.34 L114.05,78.39 L114.50,66.66 L114.95,73.83 L115.40,85.48 L115.80,80.78 L115.85,89.90 L116.30,124.37 L116.50,127.05 L116.75,124.01 L117.20,120.11 L117.65,110.99 L117.70,95.37 L118.10,96.32 L118.55,82.41 L118.70,79.05 L119.00,86.74 L119.45,105.08 L119.90,106.16 L120.00,102.57 L120.35,122.12 L120.50,123.40 L120.80,123.75 L121.25,122.13 L121.50,110.25 L121.70,114.82 L122.15,108.51 L122.60,108.70 L123.05,110.43 L123.10,99.69 L123.50,107.56 L123.95,111.60 L124.40,117.44 L124.85,118.22 L125.00,114.28 L125.30,120.55 L125.75,112.11 L126.20,93.19 L126.30,88.17 L126.65,106.01 L127.10,92.97 L127.55,98.69 L128.00,97.56 L128.10,95.37 L128.45,122.35 L128.80,136.17 L128.90,138.85 L129.35,122.31 L129.80,99.13 L130.00,89.90 L130.25,104.48 L130.70,99.74 L131.15,83.43 L131.60,87.38 L131.90,66.28 L132.05,72.99 L132.50,68.98 L132.95,66.49 L133.40,58.98 L133.85,65.36 L134.30,76.86 L134.75,79.65 L134.80,75.40 L135.20,86.55 L135.65,101.19 L136.10,103.46 L136.55,91.90 L136.70,89.90 L137.00,114.04 L137.30,117.93 L137.45,118.37 L137.90,125.90 L138.35,116.11 L138.80,123.42 L139.00,111.69 L139.25,119.39 L139.70,112.73 L140.00,112.17 L140.15,116.81 L140.60,126.22 L141.05,126.21 L141.50,129.07 L141.60,121.29 L141.95,131.52 L142.40,128.79 L142.85,137.15 L143.30,133.45 L143.75,136.88 L143.80,136.17 L144.20,129.27 L144.65,120.98 L145.10,113.43 L145.40,104.97 L145.55,106.48 L146.00,101.59 L146.45,96.70 L146.90,92.87 L147.30,88.65 L147.35,96.15 L147.80,91.38 L148.25,82.45 L148.70,83.83 L149.15,90.37 L149.20,73.19 L149.60,82.64 L150.05,96.20 L150.20,75.88 L150.50,95.38 L150.95,95.66 L151.40,95.79 L151.85,98.94 L152.00,99.50 L152.30,112.06 L152.75,108.16 L153.20,120.97 L153.65,121.99 L153.90,117.74 L154.10,122.47 L154.55,130.79 L155.00,137.11 L155.20,137.90 L155.45,137.98 L155.90,121.52 L156.35,116.90 L156.80,93.69 L157.25,81.29 L157.30,74.06 L157.70,86.14 L158.15,90.44 L158.60,90.79 L158.70,88.65 L159.05,94.70 L159.50,91.65 L159.95,94.67 L160.00,92.20 L160.40,103.25 L160.85,109.82 L161.30,117.94 L161.50,108.62 L161.75,115.90 L162.20,122.44 L162.65,134.10 L163.10,137.90 L163.55,137.29 L164.00,129.37 L164.45,125.98 L164.90,116.13 L165.30,104.97 L165.35,115.63 L165.80,112.64 L166.25,111.23 L166.70,104.20 L167.15,91.62 L167.20,90.38 L167.60,100.01 L168.05,113.65 L168.40,106.98 L168.50,111.81 L168.95,102.54 L169.10,88.65 L169.40,86.55 L169.85,94.50 L170.30,85.71 L170.60,74.06 L170.75,76.80 L171.20,83.27 L171.65,87.70 L171.90,86.82 L172.10,86.92 L172.55,98.64 L173.00,79.31 L173.40,68.58 L173.45,82.64 L173.90,87.04 L174.35,84.61 L174.80,90.38 L175.25,97.35 L175.70,102.00 L176.00,101.61 L176.15,96.44 L176.60,81.64 L176.70,74.06 L177.05,84.87 L177.50,73.11 L177.95,73.84 L178.40,64.64 L178.60,61.29 L178.85,61.76 L179.30,77.62 L179.75,57.92 L179.90,46.79 L180.20,76.18 L180.65,59.62 L181.10,82.98 L181.40,63.21 L181.55,76.77 L182.00,82.18 L182.45,82.71 L182.80,86.82 L182.90,94.88 L183.35,102.34 L183.80,109.90 L184.20,99.50 L184.25,99.99 L184.70,103.07 L185.15,98.23 L185.60,96.74 L185.70,92.20 L186.05,103.49 L186.50,98.55 L186.95,84.29 L187.40,91.84 L187.60,77.70 L187.85,78.80 L188.30,75.54 L188.50,66.76 L188.75,81.11 L189.20,83.48 L189.50,81.35 L189.65,84.26 L190.10,102.77 L190.55,109.60 L191.00,102.68 L191.40,104.97 L191.45,107.03 L191.90,120.88 L192.35,120.76 L192.80,124.86 L193.25,122.25 L193.30,117.74 L193.70,123.31 L194.15,131.30 L194.60,138.00 L194.90,137.90 L195.05,137.16 L195.50,134.19 L195.95,132.20 L196.40,132.82 L196.85,125.41 L196.90,123.40 L197.30,128.12 L197.75,131.87 L198.20,133.60 L198.40,134.25 L198.65,139.39 L199.10,131.54 L199.55,136.56 L200.00,126.30 L200.45,123.64 L200.70,121.58 L200.90,121.71 L201.35,121.48 L201.80,127.61 L202.25,120.39 L202.60,116.01 L202.70,119.05 L203.15,109.16 L203.60,100.60 L203.70,95.85 L204.05,98.90 L204.50,107.75 L204.95,103.93 L205.40,106.34 L205.60,104.97 L205.85,118.06 L206.30,136.96 L206.40,134.25 L206.75,131.94 L207.20,133.46 L207.65,128.07 L208.10,121.73 L208.30,119.75 L208.55,125.89 L209.00,118.44 L209.45,102.27 L209.90,93.71 L210.30,85.00 L210.35,96.38 L210.80,100.19 L211.25,104.03 L211.70,102.83 L212.15,110.11 L212.20,99.50 L212.60,108.13 L213.05,89.50 L213.50,81.73 L213.95,84.46 L214.10,68.58 L214.40,67.49 L214.85,73.71 L215.30,62.11 L215.60,55.91 L215.75,58.93 L216.20,71.71 L216.65,81.36 L216.90,72.23 L217.10,82.19 L217.55,82.95 L218.00,96.43 L218.45,90.84 L218.80,94.02 L218.90,106.24 L219.35,112.62 L219.60,117.93 L219.80,124.99 L220.25,106.79 L220.70,102.75 L221.15,92.01 L221.50,83.37 L221.60,94.43 L222.05,76.17 L222.50,70.03 L222.60,63.21 L222.95,63.51 L223.40,73.03 L223.85,76.22 L223.90,50.44 L224.30,52.96 L224.75,57.06 L225.00,48.23 L225.20,74.65 L225.65,58.54 L226.10,78.53 L226.40,54.09 L226.55,57.22 L227.00,67.83 L227.45,85.75 L227.80,70.02 L227.90,92.95 L228.35,78.08 L228.80,95.05 L229.25,79.38 L229.70,80.97 L229.70,86.28 L230.15,103.93 L230.30,106.98 L230.60,99.60 L231.00,88.17 L231.05,92.22 L231.50,85.84 L231.95,83.32 L232.40,92.86 L232.60,75.50 L232.85,84.15 L233.30,88.45 L233.75,101.99 L234.10,88.17 L234.20,94.54 L234.65,99.16 L235.10,116.99 L235.55,115.74 L235.70,117.93 L236.00,116.04 L236.45,113.61 L236.90,119.25 L237.35,106.35 L237.60,101.61 L237.80,109.81 L238.25,112.86 L238.70,107.94 L239.00,106.41 L239.15,114.38 L239.60,108.16 L240.05,96.10 L240.20,93.74 L240.50,106.96 L240.95,124.79 L241.40,125.22 L241.85,119.10 L242.30,114.23 L242.75,103.11 L243.20,104.40 L243.65,98.48 L243.90,80.97 L244.10,83.06 L244.55,78.39 L245.00,68.80 L245.45,78.11 L245.80,57.35 L245.90,57.20 L246.35,60.17 L246.80,69.22 L247.25,63.70 L247.30,31.91 L247.70,38.62 L248.15,52.97 L248.60,56.31 L248.70,48.23 L249.05,61.58 L249.50,74.75 L249.95,85.73 L250.00,68.20 L250.40,73.46 L250.85,79.60 L251.30,84.58 L251.50,80.97 L251.75,86.26 L252.20,91.74 L252.65,108.05 L253.10,102.46 L253.40,102.38 L253.55,115.73 L254.00,98.04 L254.45,100.16 L254.90,86.78 L255.35,95.40 L255.50,78.57 L255.80,93.41 L256.25,72.90 L256.70,65.29 L257.15,68.35 L257.20,55.53 L257.60,66.40 L258.05,72.67 L258.50,85.52 L258.70,71.85 L258.95,74.01 L259.40,84.32 L259.85,79.62 L260.30,77.73 L260.40,75.11 L260.75,93.23 L261.00,90.09 L261.20,96.95 L261.65,108.44 L262.10,117.22 L262.30,120.52 L262.55,121.36 L263.00,123.66 L263.45,118.83 L263.90,121.92 L264.35,116.84 L264.80,115.05 L265.25,110.39 L265.70,91.16 L266.15,94.22 L266.60,71.61 L266.70,57.35 L267.05,61.42 L267.50,76.02 L267.95,47.07 L268.40,42.32 L268.85,60.37 L268.90,32.78 L269.30,61.18 L269.75,68.79 L270.20,54.13 L270.50,55.53 L270.65,65.81 L271.10,74.56 L271.55,61.68 L271.90,44.58 L272.00,55.00 L272.45,46.16 L272.90,64.56 L273.35,45.70 L273.40,33.74 L273.80,66.10 L274.25,43.39 L274.70,44.58 L274.70,72.24 L275.15,52.40 L275.60,64.25 L276.00,62.82 L276.05,74.63 L276.50,58.73 L276.95,53.81 L277.40,66.49 L277.85,41.19 L278.00,35.56 L278.30,49.43 L278.75,56.65 L279.20,61.49 L279.50,62.82 L279.65,87.07 L280.10,89.17 L280.30,85.96 L280.55,81.93 L281.00,71.85 L281.45,71.57 L281.90,77.61 L282.35,70.30 L282.80,74.63 L282.90,62.82 L283.25,73.97 L283.70,64.95 L284.15,66.76 L284.60,53.95 L284.80,48.23 L285.05,67.15 L285.50,49.50 L285.95,47.12 L286.40,52.69 L286.70,42.76 L286.85,53.75 L287.30,50.91 L287.75,56.28 L288.00,57.35 L288.20,78.95 L288.65,73.01 L288.80,75.11 L289.10,77.64 L289.55,68.87 L289.90,62.82 L290.00,87.49 L290.45,83.98 L290.90,91.59 L291.35,93.11 L291.80,75.50 L292.25,80.31 L292.70,98.73 L293.15,87.97 L293.60,87.82 L293.70,86.44 L294.05,92.44 L294.50,94.35 L294.95,110.69 L295.40,102.43 L295.50,100.55 L295.85,95.74 L296.30,83.37 L296.75,90.57 L296.90,66.38 L297.20,86.39 L297.65,82.98 L298.10,76.06 L298.40,66.38 L298.55,68.99 L299.00,64.33 L299.45,66.69 L299.90,31.91 L299.90,63.29 L300.35,44.05 L300.80,44.10 L301.25,55.89 L301.30,42.76 L301.70,68.71 L302.15,61.11 L302.60,66.38 L303.05,69.25 L303.50,73.41 L303.95,93.05 L304.10,71.85 L304.40,86.78 L304.85,80.03 L305.30,85.43 L305.60,86.44 L305.75,93.67 L306.20,107.00 L306.65,99.05 L306.90,99.11 L307.10,102.14 L307.55,110.06 L307.80,109.58 L308.00,112.02 L308.45,113.28 L308.90,106.78 L309.00,104.49 L309.35,106.61 L309.80,111.70 L310.25,94.55 L310.60,89.61 L310.70,97.77 L311.15,95.25 L311.60,78.12 L312.05,80.02 L312.50,66.69 L312.60,59.18 L312.95,69.62 L313.40,80.09 L313.85,87.82 L313.90,68.20 L314.30,83.48 L314.75,84.81 L315.20,101.59 L315.50,93.74 L315.65,104.33 L316.10,109.55 L316.30,113.13 L316.55,115.02 L317.00,108.07 L317.45,93.25 L317.80,84.62 L317.90,88.26 L318.35,99.90 L318.80,94.85 L319.25,97.34 L319.70,80.97 L320.15,91.65 L320.60,95.19 L320.70,90.09 L321.05,100.02 L321.20,102.57 L321.50,105.91 L321.95,117.90 L322.00,109.58 L322.40,105.35 L322.80,73.77 L322.85,76.84 L323.30,73.79 L323.75,69.75 L323.90,57.35 L324.20,73.59 L324.65,67.94 L325.10,69.98 L325.40,71.85 L325.55,76.25 L326.00,95.52 L326.45,83.74 L326.70,80.97 L326.90,89.31 L327.35,108.89 L327.80,112.20 L328.25,124.74 L328.50,117.93 L328.70,122.86 L329.15,114.85 L329.60,103.66 L330.05,86.61 L330.20,79.14 L330.50,88.66 L330.95,94.85 L331.40,75.86 L331.70,73.77 L331.85,90.95 L332.30,64.30 L332.75,54.52 L333.00,48.23 L333.20,65.29 L333.65,73.91 L334.10,75.09 L334.30,66.38 L334.55,85.46 L335.00,90.33 L335.45,92.27 L335.80,77.32 L335.90,96.40 L336.35,79.44 L336.80,77.15 L337.25,91.34 L337.30,75.50 L337.70,96.42 L338.15,91.36 L338.50,92.97 L338.60,105.91 L339.00,152.00 L339.05,148.06 L339.50,107.40 L339.60,92.97 L339.95,83.79 L340.40,79.20 L340.85,54.21 L341.10,39.21 L341.30,50.28 L341.75,52.95 L342.20,45.45 L342.50,35.56 L342.65,59.03 L343.10,62.93 L343.55,56.88 L343.80,57.35 L344.00,58.18 L344.45,57.11 L344.90,55.51 L345.30,50.06 L345.35,77.13 L345.80,67.21 L346.25,81.87 L346.70,79.84 L347.15,94.19 L347.20,79.14 L347.60,110.35 L348.05,114.77 L348.40,127.05 L348.50,128.41 L348.95,121.07 L349.40,114.93 L349.50,102.57 L349.85,97.89 L350.30,66.86 L350.40,55.53 L350.75,66.80 L351.20,66.86 L351.65,71.79 L351.90,73.77 L352.10,79.52 L352.55,88.27 L353.00,101.17 L353.45,96.15 L353.80,93.74 L353.90,108.52 L354.35,122.66 L354.80,136.64 L355.00,143.37 L355.25,144.89 L355.70,139.70 L356.15,132.49 L356.60,128.97 L357.00,119.85 L357.05,123.86 L357.50,125.22 L357.95,129.00 L358.40,136.99 L358.85,134.92 L359.30,139.08 L359.75,141.74 L359.80,141.54 L360.20,123.55 L360.65,110.41 L361.10,98.37 L361.40,64.65 L361.55,72.88 L362.00,88.08 L362.45,84.41 L362.70,80.97 L362.90,96.72 L363.35,102.25 L363.80,114.13 L364.25,125.29 L364.50,133.00 L364.70,140.80 L365.30,164.20 L365.3,164.2 Z" fill="#000" stroke="#000" stroke-width="0.5" stroke-linejoin="round"/>
<line x1="24.6" y1="6" x2="24.6" y2="164.4" stroke="#000" stroke-width="0.6"/>
<line x1="24.6" y1="164.4" x2="365.6" y2="164.4" stroke="#000" stroke-width="0.6"/>
<line x1="23.2" y1="164.20" x2="24.6" y2="164.20" stroke="#000" stroke-width="0.4"/>
<text x="22.3" y="165.70" font-size="4.3" text-anchor="end" fill="#222" font-family="Liberation Sans, sans-serif">0</text>
<line x1="23.2" y1="156.31" x2="24.6" y2="156.31" stroke="#000" stroke-width="0.4"/>
<text x="22.3" y="157.81" font-size="4.3" text-anchor="end" fill="#222" font-family="Liberation Sans, sans-serif">5</text>
<line x1="23.2" y1="148.43" x2="24.6" y2="148.43" stroke="#000" stroke-width="0.4"/>
<text x="22.3" y="149.93" font-size="4.3" text-anchor="end" fill="#222" font-family="Liberation Sans, sans-serif">10</text>
<line x1="23.2" y1="140.54" x2="24.6" y2="140.54" stroke="#000" stroke-width="0.4"/>
<text x="22.3" y="142.04" font-size="4.3" text-anchor="end" fill="#222" font-family="Liberation Sans, sans-serif">15</text>
<line x1="23.2" y1="132.66" x2="24.6" y2="132.66" stroke="#000" stroke-width="0.4"/>
<text x="22.3" y="134.16" font-size="4.3" text-anchor="end" fill="#222" font-family="Liberation Sans, sans-serif">20</text>
<line x1="23.2" y1="124.77" x2="24.6" y2="124.77" stroke="#000" stroke-width="0.4"/>
<text x="22.3" y="126.27" font-size="4.3" text-anchor="end" fill="#222" font-family="Liberation Sans, sans-serif">25</text>
<line x1="23.2" y1="116.89" x2="24.6" y2="116.89" stroke="#000" stroke-width="0.4"/>
<text x="22.3" y="118.39" font-size="4.3" text-anchor="end" fill="#222" font-family="Liberation Sans, sans-serif">30</text>
<line x1="23.2" y1="109.00" x2="24.6" y2="109.00" stroke="#000" stroke-width="0.4"/>
<text x="22.3" y="110.50" font-size="4.3" text-anchor="end" fill="#222" font-family="Liberation Sans, sans-serif">35</text>
<line x1="23.2" y1="101.12" x2="24.6" y2="101.12" stroke="#000" stroke-width="0.4"/>
<text x="22.3" y="102.62" font-size="4.3" text-anchor="end" fill="#222" font-family="Liberation Sans, sans-serif">40</text>
<line x1="23.2" y1="93.23" x2="24.6" y2="93.23" stroke="#000" stroke-width="0.4"/>
<text x="22.3" y="94.73" font-size="4.3" text-anchor="end" fill="#222" font-family="Liberation Sans, sans-serif">45</text>
<line x1="23.2" y1="85.35" x2="24.6" y2="85.35" stroke="#000" stroke-width="0.4"/>
<text x="22.3" y="86.85" font-size="4.3" text-anchor="end" fill="#222" font-family="Liberation Sans, sans-serif">50</text>
<line x1="23.2" y1="77.46" x2="24.6" y2="77.46" stroke="#000" stroke-width="0.4"/>
<text x="22.3" y="78.96" font-size="4.3" text-anchor="end" fill="#222" font-family="Liberation Sans, sans-serif">55</text>
<line x1="23.2" y1="69.58" x2="24.6" y2="69.58" stroke="#000" stroke-width="0.4"/>
<text x="22.3" y="71.08" font-size="4.3" text-anchor="end" fill="#222" font-family="Liberation Sans, sans-serif">60</text>
<line x1="23.2" y1="61.69" x2="24.6" y2="61.69" stroke="#000" stroke-width="0.4"/>
<text x="22.3" y="63.19" font-size="4.3" text-anchor="end" fill="#222" font-family="Liberation Sans, sans-serif">65</text>
<line x1="23.2" y1="53.81" x2="24.6" y2="53.81" stroke="#000" stroke-width="0.4"/>
<text x="22.3" y="55.31" font-size="4.3" text-anchor="end" fill="#222" font-family="Liberation Sans, sans-serif">70</text>
<line x1="23.2" y1="45.92" x2="24.6" y2="45.92" stroke="#000" stroke-width="0.4"/>
<text x="22.3" y="47.42" font-size="4.3" text-anchor="end" fill="#222" font-family="Liberation Sans, sans-serif">75</text>
<line x1="23.2" y1="38.04" x2="24.6" y2="38.04" stroke="#000" stroke-width="0.4"/>
<text x="22.3" y="39.54" font-size="4.3" text-anchor="end" fill="#222" font-family="Liberation Sans, sans-serif">80</text>
<line x1="23.2" y1="30.16" x2="24.6" y2="30.16" stroke="#000" stroke-width="0.4"/>
<text x="22.3" y="31.66" font-size="4.3" text-anchor="end" fill="#222" font-family="Liberation Sans, sans-serif">85</text>
<line x1="23.2" y1="22.27" x2="24.6" y2="22.27" stroke="#000" stroke-width="0.4"/>
<text x="22.3" y="23.77" font-size="4.3" text-anchor="end" fill="#222" font-family="Liberation Sans, sans-serif">90</text>
<line x1="23.2" y1="14.38" x2="24.6" y2="14.38" stroke="#000" stroke-width="0.4"/>
<text x="22.3" y="15.88" font-size="4.3" text-anchor="end" fill="#222" font-family="Liberation Sans, sans-serif">95</text>
<line x1="23.2" y1="6.50" x2="24.6" y2="6.50" stroke="#000" stroke-width="0.4"/>
<text x="22.3" y="8.00" font-size="4.3" text-anchor="end" fill="#222" font-family="Liberation Sans, sans-serif">100</text>
<line x1="23.9" y1="164.20" x2="24.6" y2="164.20" stroke="#000" stroke-width="0.25"/>
<line x1="23.9" y1="162.62" x2="24.6" y2="162.62" stroke="#000" stroke-width="0.25"/>
<line x1="23.9" y1="161.05" x2="24.6" y2="161.05" stroke="#000" stroke-width="0.25"/>
<line x1="23.9" y1="159.47" x2="24.6" y2="159.47" stroke="#000" stroke-width="0.25"/>
<line x1="23.9" y1="157.89" x2="24.6" y2="157.89" stroke="#000" stroke-width="0.25"/>
<line x1="23.9" y1="156.31" x2="24.6" y2="156.31" stroke="#000" stroke-width="0.25"/>
<line x1="23.9" y1="154.74" x2="24.6" y2="154.74" stroke="#000" stroke-width="0.25"/>
<line x1="23.9" y1="153.16" x2="24.6" y2="153.16" stroke="#000" stroke-width="0.25"/>
<line x1="23.9" y1="151.58" x2="24.6" y2="151.58" stroke="#000" stroke-width="0.25"/>
<line x1="23.9" y1="150.01" x2="24.6" y2="150.01" stroke="#000" stroke-width="0.25"/>
<line x1="23.9" y1="148.43" x2="24.6" y2="148.43" stroke="#000" stroke-width="0.25"/>
<line x1="23.9" y1="146.85" x2="24.6" y2="146.85" stroke="#000" stroke-width="0.25"/>
<line x1="23.9" y1="145.28" x2="24.6" y2="145.28" stroke="#000" stroke-width="0.25"/>
<line x1="23.9" y1="143.70" x2="24.6" y2="143.70" stroke="#000" stroke-width="0.25"/>
<line x1="23.9" y1="142.12" x2="24.6" y2="142.12" stroke="#000" stroke-width="0.25"/>
<line x1="23.9" y1="140.54" x2="24.6" y2="140.54" stroke="#000" stroke-width="0.25"/>
<line x1="23.9" y1="138.97" x2="24.6" y2="138.97" stroke="#000" stroke-width="0.25"/>
<line x1="23.9" y1="137.39" x2="24.6" y2="137.39" stroke="#000" stroke-width="0.25"/>
<line x1="23.9" y1="135.81" x2="24.6" y2="135.81" stroke="#000" stroke-width="0.25"/>
<line x1="23.9" y1="134.24" x2="24.6" y2="134.24" stroke="#000" stroke-width="0.25"/>
<line x1="23.9" y1="132.66" x2="24.6" y2="132.66" stroke="#000" stroke-width="0.25"/>
<line x1="23.9" y1="131.08" x2="24.6" y2="131.08" stroke="#000" stroke-width="0.25"/>
<line x1="23.9" y1="129.51" x2="24.6" y2="129.51" stroke="#000" stroke-width="0.25"/>
<line x1="23.9" y1="127.93" x2="24.6" y2="127.93" stroke="#000" stroke-width="0.25"/>
<line x1="23.9" y1="126.35" x2="24.6" y2="126.35" stroke="#000" stroke-width="0.25"/>
<line x1="23.9" y1="124.77" x2="24.6" y2="124.77" stroke="#000" stroke-width="0.25"/>
<line x1="23.9" y1="123.20" x2="24.6" y2="123.20" stroke="#000" stroke-width="0.25"/>
<line x1="23.9" y1="121.62" x2="24.6" y2="121.62" stroke="#000" stroke-width="0.25"/>
<line x1="23.9" y1="120.04" x2="24.6" y2="120.04" stroke="#000" stroke-width="0.25"/>
<line x1="23.9" y1="118.47" x2="24.6" y2="118.47" stroke="#000" stroke-width="0.25"/>
<line x1="23.9" y1="116.89" x2="24.6" y2="116.89" stroke="#000" stroke-width="0.25"/>
<line x1="23.9" y1="115.31" x2="24.6" y2="115.31" stroke="#000" stroke-width="0.25"/>
<line x1="23.9" y1="113.74" x2="24.6" y2="113.74" stroke="#000" stroke-width="0.25"/>
<line x1="23.9" y1="112.16" x2="24.6" y2="112.16" stroke="#000" stroke-width="0.25"/>
<line x1="23.9" y1="110.58" x2="24.6" y2="110.58" stroke="#000" stroke-width="0.25"/>
<line x1="23.9" y1="109.00" x2="24.6" y2="109.00" stroke="#000" stroke-width="0.25"/>
<line x1="23.9" y1="107.43" x2="24.6" y2="107.43" stroke="#000" stroke-width="0.25"/>
<line x1="23.9" y1="105.85" x2="24.6" y2="105.85" stroke="#000" stroke-width="0.25"/>
<line x1="23.9" y1="104.27" x2="24.6" y2="104.27" stroke="#000" stroke-width="0.25"/>
<line x1="23.9" y1="102.70" x2="24.6" y2="102.70" stroke="#000" stroke-width="0.25"/>
<line x1="23.9" y1="101.12" x2="24.6" y2="101.12" stroke="#000" stroke-width="0.25"/>
<line x1="23.9" y1="99.54" x2="24.6" y2="99.54" stroke="#000" stroke-width="0.25"/>
<line x1="23.9" y1="97.97" x2="24.6" y2="97.97" stroke="#000" stroke-width="0.25"/>
<line x1="23.9" y1="96.39" x2="24.6" y2="96.39" stroke="#000" stroke-width="0.25"/>
<line x1="23.9" y1="94.81" x2="24.6" y2="94.81" stroke="#000" stroke-width="0.25"/>
<line x1="23.9" y1="93.23" x2="24.6" y2="93.23" stroke="#000" stroke-width="0.25"/>
<line x1="23.9" y1="91.66" x2="24.6" y2="91.66" stroke="#000" stroke-width="0.25"/>
<line x1="23.9" y1="90.08" x2="24.6" y2="90.08" stroke="#000" stroke-width="0.25"/>
<line x1="23.9" y1="88.50" x2="24.6" y2="88.50" stroke="#000" stroke-width="0.25"/>
<line x1="23.9" y1="86.93" x2="24.6" y2="86.93" stroke="#000" stroke-width="0.25"/>
<line x1="23.9" y1="85.35" x2="24.6" y2="85.35" stroke="#000" stroke-width="0.25"/>
<line x1="23.9" y1="83.77" x2="24.6" y2="83.77" stroke="#000" stroke-width="0.25"/>
<line x1="23.9" y1="82.20" x2="24.6" y2="82.20" stroke="#000" stroke-width="0.25"/>
<line x1="23.9" y1="80.62" x2="24.6" y2="80.62" stroke="#000" stroke-width="0.25"/>
<line x1="23.9" y1="79.04" x2="24.6" y2="79.04" stroke="#000" stroke-width="0.25"/>
<line x1="23.9" y1="77.46" x2="24.6" y2="77.46" stroke="#000" stroke-width="0.25"/>
<line x1="23.9" y1="75.89" x2="24.6" y2="75.89" stroke="#000" stroke-width="0.25"/>
<line x1="23.9" y1="74.31" x2="24.6" y2="74.31" stroke="#000" stroke-width="0.25"/>
<line x1="23.9" y1="72.73" x2="24.6" y2="72.73" stroke="#000" stroke-width="0.25"/>
<line x1="23.9" y1="71.16" x2="24.6" y2="71.16" stroke="#000" stroke-width="0.25"/>
<line x1="23.9" y1="69.58" x2="24.6" y2="69.58" stroke="#000" stroke-width="0.25"/>
<line x1="23.9" y1="68.00" x2="24.6" y2="68.00" stroke="#000" stroke-width="0.25"/>
<line x1="23.9" y1="66.43" x2="24.6" y2="66.43" stroke="#000" stroke-width="0.25"/>
<line x1="23.9" y1="64.85" x2="24.6" y2="64.85" stroke="#000" stroke-width="0.25"/>
<line x1="23.9" y1="63.27" x2="24.6" y2="63.27" stroke="#000" stroke-width="0.25"/>
<line x1="23.9" y1="61.69" x2="24.6" y2="61.69" stroke="#000" stroke-width="0.25"/>
<line x1="23.9" y1="60.12" x2="24.6" y2="60.12" stroke="#000" stroke-width="0.25"/>
<line x1="23.9" y1="58.54" x2="24.6" y2="58.54" stroke="#000" stroke-width="0.25"/>
<line x1="23.9" y1="56.96" x2="24.6" y2="56.96" stroke="#000" stroke-width="0.25"/>
<line x1="23.9" y1="55.39" x2="24.6" y2="55.39" stroke="#000" stroke-width="0.25"/>
<line x1="23.9" y1="53.81" x2="24.6" y2="53.81" stroke="#000" stroke-width="0.25"/>
<line x1="23.9" y1="52.23" x2="24.6" y2="52.23" stroke="#000" stroke-width="0.25"/>
<line x1="23.9" y1="50.66" x2="24.6" y2="50.66" stroke="#000" stroke-width="0.25"/>
<line x1="23.9" y1="49.08" x2="24.6" y2="49.08" stroke="#000" stroke-width="0.25"/>
<line x1="23.9" y1="47.50" x2="24.6" y2="47.50" stroke="#000" stroke-width="0.25"/>
<line x1="23.9" y1="45.92" x2="24.6" y2="45.92" stroke="#000" stroke-width="0.25"/>
<line x1="23.9" y1="44.35" x2="24.6" y2="44.35" stroke="#000" stroke-width="0.25"/>
<line x1="23.9" y1="42.77" x2="24.6" y2="42.77" stroke="#000" stroke-width="0.25"/>
<line x1="23.9" y1="41.19" x2="24.6" y2="41.19" stroke="#000" stroke-width="0.25"/>
<line x1="23.9" y1="39.62" x2="24.6" y2="39.62" stroke="#000" stroke-width="0.25"/>
<line x1="23.9" y1="38.04" x2="24.6" y2="38.04" stroke="#000" stroke-width="0.25"/>
<line x1="23.9" y1="36.46" x2="24.6" y2="36.46" stroke="#000" stroke-width="0.25"/>
<line x1="23.9" y1="34.89" x2="24.6" y2="34.89" stroke="#000" stroke-width="0.25"/>
<line x1="23.9" y1="33.31" x2="24.6" y2="33.31" stroke="#000" stroke-width="0.25"/>
<line x1="23.9" y1="31.73" x2="24.6" y2="31.73" stroke="#000" stroke-width="0.25"/>
<line x1="23.9" y1="30.16" x2="24.6" y2="30.16" stroke="#000" stroke-width="0.25"/>
<line x1="23.9" y1="28.58" x2="24.6" y2="28.58" stroke="#000" stroke-width="0.25"/>
<line x1="23.9" y1="27.00" x2="24.6" y2="27.00" stroke="#000" stroke-width="0.25"/>
<line x1="23.9" y1="25.42" x2="24.6" y2="25.42" stroke="#000" stroke-width="0.25"/>
<line x1="23.9" y1="23.85" x2="24.6" y2="23.85" stroke="#000" stroke-width="0.25"/>
<line x1="23.9" y1="22.27" x2="24.6" y2="22.27" stroke="#000" stroke-width="0.25"/>
<line x1="23.9" y1="20.69" x2="24.6" y2="20.69" stroke="#000" stroke-width="0.25"/>
<line x1="23.9" y1="19.12" x2="24.6" y2="19.12" stroke="#000" stroke-width="0.25"/>
<line x1="23.9" y1="17.54" x2="24.6" y2="17.54" stroke="#000" stroke-width="0.25"/>
<line x1="23.9" y1="15.96" x2="24.6" y2="15.96" stroke="#000" stroke-width="0.25"/>
<line x1="23.9" y1="14.38" x2="24.6" y2="14.38" stroke="#000" stroke-width="0.25"/>
<line x1="23.9" y1="12.81" x2="24.6" y2="12.81" stroke="#000" stroke-width="0.25"/>
<line x1="23.9" y1="11.23" x2="24.6" y2="11.23" stroke="#000" stroke-width="0.25"/>
<line x1="23.9" y1="9.65" x2="24.6" y2="9.65" stroke="#000" stroke-width="0.25"/>
<line x1="23.9" y1="8.08" x2="24.6" y2="8.08" stroke="#000" stroke-width="0.25"/>
<line x1="23.9" y1="6.50" x2="24.6" y2="6.50" stroke="#000" stroke-width="0.25"/>
<line x1="24.50" y1="164.4" x2="24.50" y2="166.40" stroke="#000" stroke-width="0.4"/>
<line x1="30.18" y1="164.4" x2="30.18" y2="165.40" stroke="#000" stroke-width="0.4"/>
<line x1="35.87" y1="164.4" x2="35.87" y2="165.40" stroke="#000" stroke-width="0.4"/>
<line x1="41.55" y1="164.4" x2="41.55" y2="165.40" stroke="#000" stroke-width="0.4"/>
<line x1="47.24" y1="164.4" x2="47.24" y2="165.40" stroke="#000" stroke-width="0.4"/>
<line x1="52.92" y1="164.4" x2="52.92" y2="166.40" stroke="#000" stroke-width="0.4"/>
<line x1="58.60" y1="164.4" x2="58.60" y2="165.40" stroke="#000" stroke-width="0.4"/>
<line x1="64.29" y1="164.4" x2="64.29" y2="165.40" stroke="#000" stroke-width="0.4"/>
<line x1="69.97" y1="164.4" x2="69.97" y2="165.40" stroke="#000" stroke-width="0.4"/>
<line x1="75.66" y1="164.4" x2="75.66" y2="165.40" stroke="#000" stroke-width="0.4"/>
<line x1="81.34" y1="164.4" x2="81.34" y2="166.40" stroke="#000" stroke-width="0.4"/>
<line x1="87.02" y1="164.4" x2="87.02" y2="165.40" stroke="#000" stroke-width="0.4"/>
<line x1="92.71" y1="164.4" x2="92.71" y2="165.40" stroke="#000" stroke-width="0.4"/>
<line x1="98.39" y1="164.4" x2="98.39" y2="165.40" stroke="#000" stroke-width="0.4"/>
<line x1="104.08" y1="164.4" x2="104.08" y2="165.40" stroke="#000" stroke-width="0.4"/>
<line x1="109.76" y1="164.4" x2="109.76" y2="166.40" stroke="#000" stroke-width="0.4"/>
<line x1="115.44" y1="164.4" x2="115.44" y2="165.40" stroke="#000" stroke-width="0.4"/>
<line x1="121.13" y1="164.4" x2="121.13" y2="165.40" stroke="#000" stroke-width="0.4"/>
<line x1="126.81" y1="164.4" x2="126.81" y2="165.40" stroke="#000" stroke-width="0.4"/>
<line x1="132.50" y1="164.4" x2="132.50" y2="165.40" stroke="#000" stroke-width="0.4"/>
<line x1="138.18" y1="164.4" x2="138.18" y2="166.40" stroke="#000" stroke-width="0.4"/>
<line x1="143.86" y1="164.4" x2="143.86" y2="165.40" stroke="#000" stroke-width="0.4"/>
<line x1="149.55" y1="164.4" x2="149.55" y2="165.40" stroke="#000" stroke-width="0.4"/>
<line x1="155.23" y1="164.4" x2="155.23" y2="165.40" stroke="#000" stroke-width="0.4"/>
<line x1="160.92" y1="164.4" x2="160.92" y2="165.40" stroke="#000" stroke-width="0.4"/>
<line x1="166.60" y1="164.4" x2="166.60" y2="166.40" stroke="#000" stroke-width="0.4"/>
<line x1="172.28" y1="164.4" x2="172.28" y2="165.40" stroke="#000" stroke-width="0.4"/>
<line x1="177.97" y1="164.4" x2="177.97" y2="165.40" stroke="#000" stroke-width="0.4"/>
<line x1="183.65" y1="164.4" x2="183.65" y2="165.40" stroke="#000" stroke-width="0.4"/>
<line x1="189.34" y1="164.4" x2="189.34" y2="165.40" stroke="#000" stroke-width="0.4"/>
<line x1="195.02" y1="164.4" x2="195.02" y2="166.40" stroke="#000" stroke-width="0.4"/>
<line x1="200.70" y1="164.4" x2="200.70" y2="165.40" stroke="#000" stroke-width="0.4"/>
<line x1="206.39" y1="164.4" x2="206.39" y2="165.40" stroke="#000" stroke-width="0.4"/>
<line x1="212.07" y1="164.4" x2="212.07" y2="165.40" stroke="#000" stroke-width="0.4"/>
<line x1="217.76" y1="164.4" x2="217.76" y2="165.40" stroke="#000" stroke-width="0.4"/>
<line x1="223.44" y1="164.4" x2="223.44" y2="166.40" stroke="#000" stroke-width="0.4"/>
<line x1="229.12" y1="164.4" x2="229.12" y2="165.40" stroke="#000" stroke-width="0.4"/>
<line x1="234.81" y1="164.4" x2="234.81" y2="165.40" stroke="#000" stroke-width="0.4"/>
<line x1="240.49" y1="164.4" x2="240.49" y2="165.40" stroke="#000" stroke-width="0.4"/>
<line x1="246.18" y1="164.4" x2="246.18" y2="165.40" stroke="#000" stroke-width="0.4"/>
<line x1="251.86" y1="164.4" x2="251.86" y2="166.40" stroke="#000" stroke-width="0.4"/>
<line x1="257.54" y1="164.4" x2="257.54" y2="165.40" stroke="#000" stroke-width="0.4"/>
<line x1="263.23" y1="164.4" x2="263.23" y2="165.40" stroke="#000" stroke-width="0.4"/>
<line x1="268.91" y1="164.4" x2="268.91" y2="165.40" stroke="#000" stroke-width="0.4"/>
<line x1="274.60" y1="164.4" x2="274.60" y2="165.40" stroke="#000" stroke-width="0.4"/>
<line x1="280.28" y1="164.4" x2="280.28" y2="166.40" stroke="#000" stroke-width="0.4"/>
<line x1="285.96" y1="164.4" x2="285.96" y2="165.40" stroke="#000" stroke-width="0.4"/>
<line x1="291.65" y1="164.4" x2="291.65" y2="165.40" stroke="#000" stroke-width="0.4"/>
<line x1="297.33" y1="164.4" x2="297.33" y2="165.40" stroke="#000" stroke-width="0.4"/>
<line x1="303.02" y1="164.4" x2="303.02" y2="165.40" stroke="#000" stroke-width="0.4"/>
<line x1="308.70" y1="164.4" x2="308.70" y2="166.40" stroke="#000" stroke-width="0.4"/>
<line x1="314.38" y1="164.4" x2="314.38" y2="165.40" stroke="#000" stroke-width="0.4"/>
<line x1="320.07" y1="164.4" x2="320.07" y2="165.40" stroke="#000" stroke-width="0.4"/>
<line x1="325.75" y1="164.4" x2="325.75" y2="165.40" stroke="#000" stroke-width="0.4"/>
<line x1="331.44" y1="164.4" x2="331.44" y2="165.40" stroke="#000" stroke-width="0.4"/>
<line x1="337.12" y1="164.4" x2="337.12" y2="166.40" stroke="#000" stroke-width="0.4"/>
<line x1="342.80" y1="164.4" x2="342.80" y2="165.40" stroke="#000" stroke-width="0.4"/>
<line x1="348.49" y1="164.4" x2="348.49" y2="165.40" stroke="#000" stroke-width="0.4"/>
<line x1="354.17" y1="164.4" x2="354.17" y2="165.40" stroke="#000" stroke-width="0.4"/>
<line x1="359.86" y1="164.4" x2="359.86" y2="165.40" stroke="#000" stroke-width="0.4"/>
<line x1="365.54" y1="164.4" x2="365.54" y2="166.40" stroke="#000" stroke-width="0.4"/>
<text x="24.50" y="171" font-size="4.6" text-anchor="middle" fill="#222" font-family="Liberation Sans, sans-serif">0</text>
<text x="52.92" y="171" font-size="4.6" text-anchor="middle" fill="#222" font-family="Liberation Sans, sans-serif">10</text>
<text x="81.34" y="171" font-size="4.6" text-anchor="middle" fill="#222" font-family="Liberation Sans, sans-serif">20</text>
<text x="109.76" y="171" font-size="4.6" text-anchor="middle" fill="#222" font-family="Liberation Sans, sans-serif">30</text>
<text x="138.18" y="171" font-size="4.6" text-anchor="middle" fill="#222" font-family="Liberation Sans, sans-serif">40</text>
<text x="166.60" y="171" font-size="4.6" text-anchor="middle" fill="#222" font-family="Liberation Sans, sans-serif">50</text>
<text x="195.02" y="171" font-size="4.6" text-anchor="middle" fill="#222" font-family="Liberation Sans, sans-serif">60</text>
<text x="223.44" y="171" font-size="4.6" text-anchor="middle" fill="#222" font-family="Liberation Sans, sans-serif">70</text>
<text x="251.86" y="171" font-size="4.6" text-anchor="middle" fill="#222" font-family="Liberation Sans, sans-serif">80</text>
<text x="280.28" y="171" font-size="4.6" text-anchor="middle" fill="#222" font-family="Liberation Sans, sans-serif">90</text>
<text x="308.70" y="171" font-size="4.6" text-anchor="middle" fill="#222" font-family="Liberation Sans, sans-serif">100</text>
<text x="337.12" y="171" font-size="4.6" text-anchor="middle" fill="#222" font-family="Liberation Sans, sans-serif">110</text>
<text x="365.54" y="171" font-size="4.6" text-anchor="middle" fill="#222" font-family="Liberation Sans, sans-serif">120</text>
<text x="195" y="175.5" font-size="4.2" text-anchor="middle" fill="#222" font-family="Liberation Sans, sans-serif">Time (min)</text>
<text transform="translate(14,85.3) rotate(-90)" font-size="4.0" text-anchor="middle" fill="#333" font-family="Liberation Sans, sans-serif">Relative Abundance</text>
<text transform="translate(64.3,5.0) scale(0.5)" font-size="8.5" fill="#222" font-family="Liberation Sans, sans-serif">15.02</text>
<text transform="translate(57.0,21.7) scale(0.5)" font-size="8.5" fill="#222" font-family="Liberation Sans, sans-serif">15.55</text>
<line x1="62.1" y1="22.4" x2="68.9" y2="22.4" stroke="#7fcf7f" stroke-width="0.5"/>
<text transform="translate(76.9,19.5) scale(0.5)" font-size="8.5" fill="#222" font-family="Liberation Sans, sans-serif">19.87</text>
<line x1="81.1" y1="20.2" x2="84.1" y2="20.2" stroke="#7fcf7f" stroke-width="0.5"/>
<text transform="translate(88.2,20.5) scale(0.5)" font-size="8.5" fill="#222" font-family="Liberation Sans, sans-serif">20.12</text>
<line x1="81.8" y1="21.2" x2="93.3" y2="21.2" stroke="#7fcf7f" stroke-width="0.5"/>
<text transform="translate(84.0,29.0) scale(0.5)" font-size="8.5" fill="#222" font-family="Liberation Sans, sans-serif">20.24</text>
<line x1="82.2" y1="29.7" x2="89.1" y2="29.7" stroke="#7fcf7f" stroke-width="0.5"/>
<text transform="translate(84.5,43.5) scale(0.5)" font-size="8.5" fill="#222" font-family="Liberation Sans, sans-serif">20.29</text>
<line x1="82.3" y1="44.2" x2="89.6" y2="44.2" stroke="#7fcf7f" stroke-width="0.5"/>
<text transform="translate(84.5,52.3) scale(0.5)" font-size="8.5" fill="#222" font-family="Liberation Sans, sans-serif">20.41</text>
<line x1="82.7" y1="53.0" x2="89.6" y2="53.0" stroke="#7fcf7f" stroke-width="0.5"/>
<text transform="translate(84.5,65.0) scale(0.5)" font-size="8.5" fill="#222" font-family="Liberation Sans, sans-serif">20.55</text>
<line x1="83.1" y1="65.7" x2="89.6" y2="65.7" stroke="#7fcf7f" stroke-width="0.5"/>
<text transform="translate(84.5,73.9) scale(0.5)" font-size="8.5" fill="#222" font-family="Liberation Sans, sans-serif">20.79</text>
<line x1="83.7" y1="74.6" x2="89.6" y2="74.6" stroke="#7fcf7f" stroke-width="0.5"/>
<text transform="translate(57.5,57.5) scale(0.5)" font-size="8.5" fill="#222" font-family="Liberation Sans, sans-serif">13.18</text>
<line x1="62.1" y1="58.2" x2="65.1" y2="58.2" stroke="#7fcf7f" stroke-width="0.5"/>
<text transform="translate(51.3,76.0) scale(0.5)" font-size="8.5" fill="#222" font-family="Liberation Sans, sans-serif">13.55</text>
<line x1="56.4" y1="76.7" x2="63.2" y2="76.7" stroke="#7fcf7f" stroke-width="0.5"/>
<text transform="translate(100.6,43.5) scale(0.5)" font-size="8.5" fill="#222" font-family="Liberation Sans, sans-serif">29.62</text>
<line x1="105.7" y1="44.2" x2="108.8" y2="44.2" stroke="#7fcf7f" stroke-width="0.5"/>
<text transform="translate(97.3,48.9) scale(0.5)" font-size="8.5" fill="#222" font-family="Liberation Sans, sans-serif">29.14</text>
<line x1="102.4" y1="49.6" x2="107.5" y2="49.6" stroke="#7fcf7f" stroke-width="0.5"/>
<text transform="translate(94.9,59.3) scale(0.5)" font-size="8.5" fill="#222" font-family="Liberation Sans, sans-serif">28.53</text>
<line x1="100.0" y1="60.0" x2="105.7" y2="60.0" stroke="#7fcf7f" stroke-width="0.5"/>
<text transform="translate(94.5,79.2) scale(0.5)" font-size="8.5" fill="#222" font-family="Liberation Sans, sans-serif">26.86</text>
<line x1="99.6" y1="79.9" x2="102.6" y2="79.9" stroke="#7fcf7f" stroke-width="0.5"/>
<text transform="translate(108.2,36.0) scale(0.5)" font-size="8.5" fill="#222" font-family="Liberation Sans, sans-serif">31.06</text>
<line x1="112.9" y1="36.7" x2="115.9" y2="36.7" stroke="#7fcf7f" stroke-width="0.5"/>
<text transform="translate(114.8,47.9) scale(0.5)" font-size="8.5" fill="#222" font-family="Liberation Sans, sans-serif">31.45</text>
<line x1="114.0" y1="48.6" x2="119.9" y2="48.6" stroke="#7fcf7f" stroke-width="0.5"/>
<text transform="translate(116.3,55.0) scale(0.5)" font-size="8.5" fill="#222" font-family="Liberation Sans, sans-serif">33.36</text>
<line x1="119.4" y1="55.7" x2="122.4" y2="55.7" stroke="#7fcf7f" stroke-width="0.5"/>
<text transform="translate(128.0,53.6) scale(0.5)" font-size="8.5" fill="#222" font-family="Liberation Sans, sans-serif">38.37</text>
<line x1="133.1" y1="54.3" x2="136.1" y2="54.3" stroke="#7fcf7f" stroke-width="0.5"/>
<text transform="translate(120.5,62.5) scale(0.5)" font-size="8.5" fill="#222" font-family="Liberation Sans, sans-serif">35.15</text>
<line x1="124.5" y1="63.2" x2="127.5" y2="63.2" stroke="#7fcf7f" stroke-width="0.5"/>
<text transform="translate(115.7,72.6) scale(0.5)" font-size="8.5" fill="#222" font-family="Liberation Sans, sans-serif">35.46</text>
<line x1="120.8" y1="73.3" x2="125.4" y2="73.3" stroke="#7fcf7f" stroke-width="0.5"/>
<text transform="translate(121.1,81.7) scale(0.5)" font-size="8.5" fill="#222" font-family="Liberation Sans, sans-serif">35.77</text>
<line x1="126.2" y1="82.4" x2="129.2" y2="82.4" stroke="#7fcf7f" stroke-width="0.5"/>
<text transform="translate(136.7,75.1) scale(0.5)" font-size="8.5" fill="#222" font-family="Liberation Sans, sans-serif">38.76</text>
<line x1="134.8" y1="75.8" x2="141.8" y2="75.8" stroke="#7fcf7f" stroke-width="0.5"/>
<text transform="translate(136.7,82.3) scale(0.5)" font-size="8.5" fill="#222" font-family="Liberation Sans, sans-serif">46.01</text>
<line x1="141.8" y1="83.0" x2="155.4" y2="83.0" stroke="#7fcf7f" stroke-width="0.5"/>
<text transform="translate(136.7,88.3) scale(0.5)" font-size="8.5" fill="#222" font-family="Liberation Sans, sans-serif">38.95</text>
<line x1="135.3" y1="89.0" x2="141.8" y2="89.0" stroke="#7fcf7f" stroke-width="0.5"/>
<text transform="translate(140.7,68.2) scale(0.5)" font-size="8.5" fill="#222" font-family="Liberation Sans, sans-serif">44.21</text>
<line x1="145.8" y1="68.9" x2="150.3" y2="68.9" stroke="#7fcf7f" stroke-width="0.5"/>
<text transform="translate(141.5,56.5) scale(0.5)" font-size="8.5" fill="#222" font-family="Liberation Sans, sans-serif">36.56</text>
<line x1="128.5" y1="57.2" x2="146.6" y2="57.2" stroke="#7fcf7f" stroke-width="0.5"/>
<text transform="translate(153.0,67.9) scale(0.5)" font-size="8.5" fill="#222" font-family="Liberation Sans, sans-serif">45.98</text>
<line x1="155.3" y1="68.6" x2="158.3" y2="68.6" stroke="#7fcf7f" stroke-width="0.5"/>
<text transform="translate(166.3,64.6) scale(0.5)" font-size="8.5" fill="#222" font-family="Liberation Sans, sans-serif">52.44</text>
<line x1="171.4" y1="65.3" x2="174.4" y2="65.3" stroke="#7fcf7f" stroke-width="0.5"/>
<text transform="translate(167.6,47.9) scale(0.5)" font-size="8.5" fill="#222" font-family="Liberation Sans, sans-serif">54.03</text>
<line x1="172.7" y1="48.6" x2="178.1" y2="48.6" stroke="#7fcf7f" stroke-width="0.5"/>
<text transform="translate(165.7,54.2) scale(0.5)" font-size="8.5" fill="#222" font-family="Liberation Sans, sans-serif">54.00</text>
<line x1="170.8" y1="54.9" x2="178.1" y2="54.9" stroke="#7fcf7f" stroke-width="0.5"/>
<text transform="translate(175.2,39.4) scale(0.5)" font-size="8.5" fill="#222" font-family="Liberation Sans, sans-serif">54.63</text>
<line x1="179.8" y1="40.1" x2="182.8" y2="40.1" stroke="#7fcf7f" stroke-width="0.5"/>
<text transform="translate(182.4,58.4) scale(0.5)" font-size="8.5" fill="#222" font-family="Liberation Sans, sans-serif">54.87</text>
<line x1="180.5" y1="59.1" x2="187.5" y2="59.1" stroke="#7fcf7f" stroke-width="0.5"/>
<text transform="translate(189.6,67.9) scale(0.5)" font-size="8.5" fill="#222" font-family="Liberation Sans, sans-serif">57.81</text>
<line x1="188.9" y1="68.6" x2="194.7" y2="68.6" stroke="#7fcf7f" stroke-width="0.5"/>
<text transform="translate(191.5,86.8) scale(0.5)" font-size="8.5" fill="#222" font-family="Liberation Sans, sans-serif">58.31</text>
<line x1="190.3" y1="87.5" x2="196.6" y2="87.5" stroke="#7fcf7f" stroke-width="0.5"/>
<text transform="translate(199.5,50.4) scale(0.5)" font-size="8.5" fill="#222" font-family="Liberation Sans, sans-serif">67.05</text>
<line x1="204.6" y1="51.1" x2="215.1" y2="51.1" stroke="#7fcf7f" stroke-width="0.5"/>
<text transform="translate(202.3,58.0) scale(0.5)" font-size="8.5" fill="#222" font-family="Liberation Sans, sans-serif">67.02</text>
<line x1="207.4" y1="58.7" x2="215.0" y2="58.7" stroke="#7fcf7f" stroke-width="0.5"/>
<text transform="translate(202.3,71.6) scale(0.5)" font-size="8.5" fill="#222" font-family="Liberation Sans, sans-serif">66.95</text>
<line x1="207.4" y1="72.3" x2="214.8" y2="72.3" stroke="#7fcf7f" stroke-width="0.5"/>
<text transform="translate(202.9,80.2) scale(0.5)" font-size="8.5" fill="#222" font-family="Liberation Sans, sans-serif">65.73</text>
<line x1="208.0" y1="80.9" x2="211.4" y2="80.9" stroke="#7fcf7f" stroke-width="0.5"/>
<text transform="translate(219.9,42.3) scale(0.5)" font-size="8.5" fill="#222" font-family="Liberation Sans, sans-serif">70.65</text>
<line x1="225.0" y1="43.0" x2="228.0" y2="43.0" stroke="#7fcf7f" stroke-width="0.5"/>
<text transform="translate(212.7,47.9) scale(0.5)" font-size="8.5" fill="#222" font-family="Liberation Sans, sans-serif">70.15</text>
<line x1="217.8" y1="48.6" x2="223.9" y2="48.6" stroke="#7fcf7f" stroke-width="0.5"/>
<text transform="translate(226.4,52.7) scale(0.5)" font-size="8.5" fill="#222" font-family="Liberation Sans, sans-serif">70.76</text>
<line x1="225.7" y1="53.4" x2="231.5" y2="53.4" stroke="#7fcf7f" stroke-width="0.5"/>
<text transform="translate(227.0,58.0) scale(0.5)" font-size="8.5" fill="#222" font-family="Liberation Sans, sans-serif">71.15</text>
<line x1="226.8" y1="58.7" x2="232.1" y2="58.7" stroke="#7fcf7f" stroke-width="0.5"/>
<text transform="translate(227.9,70.7) scale(0.5)" font-size="8.5" fill="#222" font-family="Liberation Sans, sans-serif">71.38</text>
<line x1="227.4" y1="71.4" x2="233.0" y2="71.4" stroke="#7fcf7f" stroke-width="0.5"/>
<text transform="translate(230.7,25.8) scale(0.5)" font-size="8.5" fill="#222" font-family="Liberation Sans, sans-serif">79.62</text>
<line x1="235.8" y1="26.5" x2="250.8" y2="26.5" stroke="#7fcf7f" stroke-width="0.5"/>
<text transform="translate(243.0,22.4) scale(0.5)" font-size="8.5" fill="#222" font-family="Liberation Sans, sans-serif">79.84</text>
<line x1="248.1" y1="23.1" x2="251.4" y2="23.1" stroke="#7fcf7f" stroke-width="0.5"/>
<text transform="translate(235.1,37.1) scale(0.5)" font-size="8.5" fill="#222" font-family="Liberation Sans, sans-serif">78.15</text>
<line x1="240.2" y1="37.8" x2="246.6" y2="37.8" stroke="#7fcf7f" stroke-width="0.5"/>
<text transform="translate(235.1,46.4) scale(0.5)" font-size="8.5" fill="#222" font-family="Liberation Sans, sans-serif">77.96</text>
<line x1="240.2" y1="47.1" x2="246.1" y2="47.1" stroke="#7fcf7f" stroke-width="0.5"/>
<text transform="translate(251.0,34.7) scale(0.5)" font-size="8.5" fill="#222" font-family="Liberation Sans, sans-serif">79.53</text>
<line x1="250.6" y1="35.4" x2="256.1" y2="35.4" stroke="#7fcf7f" stroke-width="0.5"/>
<text transform="translate(255.7,26.7) scale(0.5)" font-size="8.5" fill="#222" font-family="Liberation Sans, sans-serif">86.16</text>
<line x1="260.8" y1="27.4" x2="269.4" y2="27.4" stroke="#7fcf7f" stroke-width="0.5"/>
<text transform="translate(269.0,25.8) scale(0.5)" font-size="8.5" fill="#222" font-family="Liberation Sans, sans-serif">87.66</text>
<line x1="273.7" y1="26.5" x2="276.7" y2="26.5" stroke="#7fcf7f" stroke-width="0.5"/>
<text transform="translate(281.3,29.9) scale(0.5)" font-size="8.5" fill="#222" font-family="Liberation Sans, sans-serif">89.29</text>
<line x1="278.3" y1="30.6" x2="286.4" y2="30.6" stroke="#7fcf7f" stroke-width="0.5"/>
<text transform="translate(280.9,37.1) scale(0.5)" font-size="8.5" fill="#222" font-family="Liberation Sans, sans-serif">90.21</text>
<line x1="280.9" y1="37.8" x2="286.0" y2="37.8" stroke="#7fcf7f" stroke-width="0.5"/>
<text transform="translate(255.7,44.7) scale(0.5)" font-size="8.5" fill="#222" font-family="Liberation Sans, sans-serif">85.51</text>
<line x1="260.8" y1="45.4" x2="267.5" y2="45.4" stroke="#7fcf7f" stroke-width="0.5"/>
<text transform="translate(251.9,50.4) scale(0.5)" font-size="8.5" fill="#222" font-family="Liberation Sans, sans-serif">82.08</text>
<line x1="257.0" y1="51.1" x2="260.0" y2="51.1" stroke="#7fcf7f" stroke-width="0.5"/>
<text transform="translate(294.2,25.8) scale(0.5)" font-size="8.5" fill="#222" font-family="Liberation Sans, sans-serif">96.53</text>
<line x1="298.8" y1="26.5" x2="301.8" y2="26.5" stroke="#7fcf7f" stroke-width="0.5"/>
<text transform="translate(302.1,30.9) scale(0.5)" font-size="8.5" fill="#222" font-family="Liberation Sans, sans-serif">97.32</text>
<line x1="301.1" y1="31.6" x2="307.2" y2="31.6" stroke="#7fcf7f" stroke-width="0.5"/>
<text transform="translate(302.7,37.1) scale(0.5)" font-size="8.5" fill="#222" font-family="Liberation Sans, sans-serif">97.42</text>
<line x1="301.4" y1="37.8" x2="307.8" y2="37.8" stroke="#7fcf7f" stroke-width="0.5"/>
<text transform="translate(303.1,45.7) scale(0.5)" font-size="8.5" fill="#222" font-family="Liberation Sans, sans-serif">97.52</text>
<line x1="301.7" y1="46.4" x2="308.2" y2="46.4" stroke="#7fcf7f" stroke-width="0.5"/>
<text transform="translate(306.5,54.2) scale(0.5)" font-size="8.5" fill="#222" font-family="Liberation Sans, sans-serif">101.31</text>
<line x1="312.4" y1="54.9" x2="315.4" y2="54.9" stroke="#7fcf7f" stroke-width="0.5"/>
<text transform="translate(317.9,46.0) scale(0.5)" font-size="8.5" fill="#222" font-family="Liberation Sans, sans-serif">106.62</text>
<line x1="324.0" y1="46.7" x2="327.5" y2="46.7" stroke="#7fcf7f" stroke-width="0.5"/>
<text transform="translate(327.7,40.9) scale(0.5)" font-size="8.5" fill="#222" font-family="Liberation Sans, sans-serif">111.67</text>
<line x1="333.8" y1="41.6" x2="341.8" y2="41.6" stroke="#7fcf7f" stroke-width="0.5"/>
<text transform="translate(336.3,29.0) scale(0.5)" font-size="8.5" fill="#222" font-family="Liberation Sans, sans-serif">111.91</text>
<line x1="342.4" y1="29.7" x2="345.4" y2="29.7" stroke="#7fcf7f" stroke-width="0.5"/>
<text transform="translate(345.2,35.6) scale(0.5)" font-size="8.5" fill="#222" font-family="Liberation Sans, sans-serif">112.30</text>
<line x1="343.6" y1="36.3" x2="351.3" y2="36.3" stroke="#7fcf7f" stroke-width="0.5"/>
<text transform="translate(345.7,40.7) scale(0.5)" font-size="8.5" fill="#222" font-family="Liberation Sans, sans-serif">112.34</text>
<line x1="343.7" y1="41.4" x2="351.8" y2="41.4" stroke="#7fcf7f" stroke-width="0.5"/>
<text transform="translate(347.6,51.7) scale(0.5)" font-size="8.5" fill="#222" font-family="Liberation Sans, sans-serif">114.99</text>
<line x1="351.3" y1="52.4" x2="354.3" y2="52.4" stroke="#7fcf7f" stroke-width="0.5"/>
<text transform="translate(198.9,92.3) scale(0.5)" font-size="8.5" fill="#222" font-family="Liberation Sans, sans-serif">63.22</text>
<line x1="204.0" y1="93.0" x2="207.0" y2="93.0" stroke="#7fcf7f" stroke-width="0.5"/>
<text transform="translate(192.3,101.2) scale(0.5)" font-size="8.5" fill="#222" font-family="Liberation Sans, sans-serif">59.09</text>
<line x1="192.5" y1="101.9" x2="197.4" y2="101.9" stroke="#7fcf7f" stroke-width="0.5"/>
<text transform="translate(51.3,102.0) scale(0.5)" font-size="8.5" fill="#222" font-family="Liberation Sans, sans-serif">13.60</text>
<line x1="56.4" y1="102.7" x2="63.3" y2="102.7" stroke="#7fcf7f" stroke-width="0.5"/>
<text transform="translate(48.4,110.5) scale(0.5)" font-size="8.5" fill="#222" font-family="Liberation Sans, sans-serif">10.11</text>
<line x1="53.4" y1="111.2" x2="56.4" y2="111.2" stroke="#7fcf7f" stroke-width="0.5"/>
<text transform="translate(41.2,117.8) scale(0.5)" font-size="8.5" fill="#222" font-family="Liberation Sans, sans-serif">10.03</text>
<line x1="46.3" y1="118.5" x2="53.2" y2="118.5" stroke="#7fcf7f" stroke-width="0.5"/>
<text transform="translate(42.7,144.9) scale(0.5)" font-size="8.5" fill="#222" font-family="Liberation Sans, sans-serif">9.96</text>
<line x1="46.8" y1="145.6" x2="53.0" y2="145.6" stroke="#7fcf7f" stroke-width="0.5"/>
<text transform="translate(42.7,153.4) scale(0.5)" font-size="8.5" fill="#222" font-family="Liberation Sans, sans-serif">9.91</text>
<line x1="46.8" y1="154.1" x2="52.8" y2="154.1" stroke="#7fcf7f" stroke-width="0.5"/>
<text transform="translate(34.8,160.1) scale(0.5)" font-size="8.5" fill="#222" font-family="Liberation Sans, sans-serif">7.05</text>
<line x1="38.9" y1="160.8" x2="44.7" y2="160.8" stroke="#7fcf7f" stroke-width="0.5"/>
<text x="1.5" y="31" font-size="14" fill="#111" font-family="Liberation Sans, sans-serif">A</text>
<rect x="414.3" y="11.3" width="263.2" height="426" fill="none" stroke="#777" stroke-width="1"/>
<line x1="414.3" y1="11" x2="414.3" y2="441" stroke="#666" stroke-width="1"/>
<line x1="410" y1="437.3" x2="677.5" y2="437.3" stroke="#666" stroke-width="1"/>
<path d="M414.30,80.40 C414.42,80.23 414.72,79.40 415.00,79.40 C415.28,79.43 415.00,80.37 416.00,80.60 C419.50,80.80 432.53,80.80 436.00,80.80 C436.80,80.67 436.50,79.80 436.80,79.80 C437.10,79.80 436.80,80.60 437.80,80.80 C439.47,81.00 445.35,80.97 446.80,81.00 C446.52,81.00 446.52,81.00 446.52,81.00 C446.71,75.18 447.60,57.73 447.95,46.10 C448.30,34.47 448.38,11.23 448.60,11.20 C448.82,11.20 448.86,34.33 449.25,45.90 C449.64,57.47 450.28,74.95 450.94,80.60 C451.60,80.60 452.36,79.80 453.20,79.80 C454.04,79.80 454.53,80.60 456.00,80.60 C457.47,80.53 460.33,79.43 462.00,79.40 C463.67,79.40 464.27,80.30 466.00,80.40 C467.73,80.40 471.17,80.27 472.40,80.00 C473.40,79.73 473.05,78.80 473.40,78.80 C473.75,78.83 473.83,79.93 474.50,80.20 C475.17,80.40 474.53,80.30 477.40,80.40 C480.27,80.50 488.12,80.80 491.70,80.80 C495.28,80.63 497.02,79.53 498.90,79.40 C500.78,79.40 501.48,80.00 503.00,80.00 C504.52,79.97 506.50,79.43 508.00,79.20 C509.50,78.97 510.67,78.90 512.00,78.60 C513.33,78.30 514.75,77.40 516.00,77.40 C517.25,77.40 518.17,78.20 519.50,78.60 C520.83,79.00 522.50,79.50 524.00,79.80 C525.50,80.10 525.70,80.30 528.50,80.40 C531.30,80.40 538.30,80.40 540.80,80.40 C543.30,80.23 542.63,79.40 543.50,79.40 C544.37,79.40 544.42,80.30 546.00,80.40 C547.58,80.40 551.62,80.33 553.00,80.00 C554.30,79.67 553.88,78.40 554.30,78.40 C554.72,78.40 554.47,79.73 555.50,80.00 C556.53,80.00 559.50,80.00 560.50,80.00 C561.50,79.80 561.17,78.80 561.50,78.80 C561.83,78.80 561.50,79.77 562.50,80.00 C568.92,80.20 592.00,80.20 600.00,80.20 C608.00,80.20 608.52,80.20 610.50,80.00 C611.90,79.43 611.40,76.80 611.90,76.80 C612.40,76.80 611.90,79.47 613.50,80.00 C618.18,80.00 633.85,80.00 640.00,80.00 C646.15,79.73 648.40,78.40 650.40,78.40 C652.00,78.40 650.40,79.77 652.00,80.00 C656.43,80.00 672.83,79.83 677.00,79.80" fill="none" stroke="#f07d1e" stroke-width="1.55" stroke-linejoin="round"/>
<path d="M414.30,115.60 C416.92,115.47 426.28,115.03 430.00,114.80 C433.72,114.57 435.27,114.20 436.60,114.20 C437.93,114.20 436.60,114.80 438.00,114.80 C439.67,114.80 445.06,114.30 446.60,114.20 C447.26,114.20 446.99,114.20 447.26,114.20 C447.53,111.56 448.01,103.63 448.25,98.35 C448.49,93.07 448.55,82.64 448.70,82.50 C448.85,82.50 448.88,92.50 449.15,97.50 C449.42,102.50 449.81,109.72 450.32,112.50 C450.83,114.20 451.25,114.20 452.20,114.20 C453.15,113.97 454.87,112.13 456.00,111.10 C457.13,110.07 457.63,108.75 459.00,108.00 C460.37,107.25 462.67,106.60 464.20,106.60 C465.73,106.93 467.08,109.25 468.20,110.00 C469.32,110.75 470.23,111.10 470.90,111.10 C471.57,110.43 471.78,107.43 472.20,106.00 C472.62,104.57 473.03,102.50 473.40,102.50 C473.77,102.67 474.13,105.75 474.40,107.00 C474.67,108.25 474.67,109.32 475.00,110.00 C475.33,110.68 475.90,111.10 476.40,111.10 C476.90,110.77 477.48,108.00 478.00,108.00 C478.52,108.00 478.57,110.42 479.50,111.10 C480.43,111.78 481.57,111.93 483.60,112.10 C485.63,112.10 489.67,112.10 491.70,112.10 C493.73,111.75 494.60,111.02 495.80,110.00 C497.00,108.98 497.70,106.17 498.90,106.00 C500.10,106.00 501.65,109.00 503.00,109.00 C504.35,109.00 505.82,108.03 507.00,106.00 C508.18,103.97 509.07,97.82 510.10,96.80 C511.13,96.80 512.23,99.90 513.20,99.90 C514.17,99.73 515.05,95.80 515.90,95.80 C516.75,96.13 517.38,100.37 518.30,101.90 C519.22,103.43 520.20,104.15 521.40,105.00 C522.60,105.85 524.32,106.33 525.50,107.00 C526.68,107.67 527.15,108.67 528.50,109.00 C529.85,109.00 531.88,109.00 533.60,109.00 C535.32,109.17 537.57,110.00 538.80,110.00 C540.03,109.50 540.40,107.18 541.00,106.00 C541.60,104.82 541.58,102.90 542.40,102.90 C543.22,103.40 544.60,108.05 545.90,109.00 C547.20,109.00 549.18,109.00 550.20,108.60 C551.22,107.93 551.48,106.35 552.00,105.00 C552.52,103.65 552.87,100.50 553.30,100.50 C553.73,100.50 554.15,103.65 554.60,105.00 C555.05,106.35 555.27,108.43 556.00,108.60 C556.73,108.60 558.27,106.88 559.00,106.00 C559.73,105.12 559.97,103.30 560.40,103.30 C560.83,103.30 561.18,105.05 561.60,106.00 C562.02,106.95 561.60,108.42 562.90,109.00 C564.42,109.50 567.87,109.50 570.70,109.50 C573.53,109.27 577.87,107.68 579.90,107.60 C581.93,107.60 581.55,109.00 582.90,109.00 C584.25,108.97 586.30,107.40 588.00,107.40 C589.70,107.40 590.88,108.90 593.10,109.00 C595.32,109.00 599.25,108.23 601.30,108.00 C603.35,107.77 604.03,107.77 605.40,107.60 C606.77,107.43 608.60,107.60 609.50,107.00 C610.40,105.90 610.40,102.97 610.80,101.00 C611.20,99.03 611.53,95.20 611.90,95.20 C612.27,95.20 612.65,99.20 613.00,101.00 C613.35,102.80 613.22,104.83 614.00,106.00 C614.78,107.17 615.98,107.83 617.70,108.00 C619.42,108.00 622.95,107.57 624.30,107.00 C625.65,106.43 625.35,104.68 625.80,104.60 C626.25,104.60 626.58,105.93 627.00,106.50 C627.42,107.07 627.00,107.83 628.30,108.00 C629.80,108.00 634.20,107.83 636.00,107.50 C637.80,107.17 638.27,106.08 639.10,106.00 C639.93,106.00 640.32,107.00 641.00,107.00 C641.68,106.77 642.32,104.60 643.20,104.60 C644.08,104.67 645.37,107.40 646.30,107.40 C647.23,107.30 648.12,105.08 648.80,104.00 C649.48,102.92 649.87,100.90 650.40,100.90 C650.93,100.90 651.50,102.98 652.00,104.00 C652.50,105.02 652.00,106.43 653.40,107.00 C654.83,107.40 656.67,107.17 660.60,107.40 C664.53,107.63 674.27,108.23 677.00,108.40" fill="none" stroke="#8a1cf5" stroke-width="1.55" stroke-linejoin="round"/>
<path d="M414.30,144.20 C416.92,144.06 426.28,143.58 430.00,143.34 C433.72,143.09 435.27,142.71 436.60,142.71 C437.93,142.71 436.60,143.30 438.00,143.30 C439.67,143.30 445.06,142.78 446.60,142.67 C447.26,142.67 446.99,142.67 447.26,142.67 C447.53,140.03 448.01,131.23 448.25,126.81 C448.49,122.40 448.55,116.34 448.70,116.20 C448.85,116.20 448.88,121.83 449.15,125.96 C449.42,130.09 449.81,138.17 450.32,140.96 C450.83,142.65 451.25,142.65 452.20,142.65 C453.15,142.41 454.87,140.57 456.00,139.53 C457.13,138.49 457.63,137.41 459.00,136.42 C460.37,135.43 462.67,133.60 464.20,133.60 C465.73,133.93 467.08,137.40 468.20,138.38 C469.32,139.36 470.23,139.47 470.90,139.47 C471.57,138.80 471.78,135.86 472.20,134.37 C472.62,132.87 473.03,130.50 473.40,130.50 C473.77,130.67 474.13,134.05 474.40,135.36 C474.67,136.67 474.67,137.67 475.00,138.36 C475.33,139.04 475.90,139.45 476.40,139.45 C476.90,139.12 477.48,136.35 478.00,136.34 C478.52,136.34 478.57,138.76 479.50,139.44 C480.43,140.12 481.57,140.26 483.60,140.42 C485.63,140.42 489.67,140.42 491.70,140.39 C493.73,140.03 494.60,139.57 495.80,138.27 C497.00,136.97 497.70,132.77 498.90,132.60 C500.10,132.60 501.65,136.97 503.00,137.24 C504.35,137.24 505.82,136.60 507.00,134.23 C508.18,131.85 509.07,124.02 510.10,123.00 C511.13,123.00 512.23,128.10 513.20,128.10 C514.17,127.55 515.05,119.70 515.90,119.70 C516.75,120.03 517.38,127.84 518.30,130.08 C519.22,132.33 520.20,132.33 521.40,133.17 C522.60,134.02 524.32,134.49 525.50,135.15 C526.68,135.82 527.15,136.81 528.50,137.14 C529.85,137.14 531.88,137.12 533.60,137.12 C535.32,137.28 537.57,138.10 538.80,138.10 C540.03,137.60 540.40,135.36 541.00,134.09 C541.60,132.83 541.58,130.50 542.40,130.50 C543.22,131.00 544.60,136.05 545.90,137.07 C547.20,137.07 549.18,137.07 550.20,136.66 C551.22,135.98 551.48,134.32 552.00,133.05 C552.52,131.77 552.87,129.00 553.30,129.00 C553.73,129.00 554.15,131.77 554.60,133.04 C555.05,134.31 555.27,136.47 556.00,136.63 C556.73,136.63 558.27,134.91 559.00,134.02 C559.73,133.13 559.97,131.32 560.40,131.31 C560.83,131.31 561.18,133.06 561.60,134.01 C562.02,134.96 561.60,136.43 562.90,137.00 C564.42,137.47 567.87,137.47 570.70,137.47 C573.53,137.23 577.87,135.63 579.90,135.54 C581.93,135.54 581.55,136.92 582.90,136.92 C584.25,136.89 586.30,135.31 588.00,135.30 C589.70,135.30 590.88,136.79 593.10,136.88 C595.32,136.88 599.25,136.09 601.30,135.85 C603.35,135.61 604.03,135.61 605.40,135.43 C606.77,135.26 608.60,135.43 609.50,134.82 C610.40,133.71 610.40,130.90 610.80,128.81 C611.20,126.73 611.53,122.30 611.90,122.30 C612.27,122.30 612.65,126.89 613.00,128.80 C613.35,130.72 613.22,132.64 614.00,133.80 C614.78,134.96 615.98,135.63 617.70,135.79 C619.42,135.79 622.95,135.33 624.30,134.76 C625.65,134.19 625.35,132.44 625.80,132.35 C626.25,132.35 626.58,133.68 627.00,134.25 C627.42,134.81 627.00,135.58 628.30,135.74 C629.80,135.74 634.20,135.55 636.00,135.21 C637.80,134.87 638.27,133.79 639.10,133.70 C639.93,133.70 640.32,134.69 641.00,134.69 C641.68,134.46 642.32,132.28 643.20,132.28 C644.08,132.35 645.37,135.07 646.30,135.07 C647.23,134.97 648.12,132.76 648.80,131.66 C649.48,130.57 649.87,128.50 650.40,128.50 C650.93,128.50 651.50,130.62 652.00,131.65 C652.50,132.67 652.00,134.08 653.40,134.64 C654.83,135.01 656.67,134.80 660.60,135.01 C664.53,135.23 674.27,135.79 677.00,135.95" fill="none" stroke="#f23cf2" stroke-width="1.55" stroke-linejoin="round"/>
<path d="M414.30,211.70 C419.17,211.58 438.45,211.15 443.50,211.00 C444.60,210.85 444.23,211.00 444.60,210.80 C444.97,207.30 445.35,198.47 445.70,190.00 C446.05,181.53 446.43,167.38 446.70,160.00 C446.97,152.62 447.10,145.70 447.30,145.70 C447.50,145.70 447.63,151.78 447.90,160.00 C448.17,168.22 448.58,186.65 448.90,195.00 C449.22,203.35 449.07,207.55 449.80,210.10 C450.53,210.30 449.80,210.30 453.30,210.30 C456.92,210.25 468.18,210.10 471.50,209.80 C473.20,209.50 472.65,208.50 473.20,208.50 C473.75,208.50 473.23,209.55 474.80,209.80 C476.37,210.00 478.40,210.00 482.60,210.00 C486.80,209.95 495.77,209.73 500.00,209.50 C504.23,209.27 505.63,208.87 508.00,208.60 C510.37,208.33 512.20,207.90 514.20,207.90 C516.20,207.93 517.37,208.53 520.00,208.80 C522.63,209.07 520.00,209.40 530.00,209.50 C556.17,209.50 652.50,209.42 677.00,209.40" fill="none" stroke="#3a9a2a" stroke-width="1.55" stroke-linejoin="round"/>
<path d="M414.30,281.10 C415.25,281.12 416.25,281.20 420.00,281.20 C423.75,281.10 432.37,280.50 436.80,280.50 C441.23,280.60 444.84,281.58 446.60,281.80 C447.36,281.80 447.07,281.80 447.36,281.80 C447.65,275.82 448.11,257.90 448.35,245.95 C448.59,234.00 448.65,210.21 448.80,210.10 C448.95,210.10 448.98,233.57 449.25,245.30 C449.52,257.03 449.25,275.00 450.42,280.50 C451.78,280.50 455.19,278.93 457.40,278.30 C459.61,277.67 461.87,276.70 463.70,276.70 C465.53,276.92 467.05,279.22 468.40,279.60 C469.75,279.60 471.00,279.60 471.80,279.00 C472.60,278.37 472.75,275.80 473.20,275.80 C473.65,275.80 473.98,278.37 474.50,279.00 C475.02,279.60 475.65,279.60 476.30,279.60 C476.95,279.47 477.87,278.52 478.40,278.20 C478.93,277.88 479.10,277.70 479.50,277.70 C479.90,277.87 479.75,278.68 480.80,279.20 C481.85,279.72 481.82,280.63 485.80,280.80 C489.78,280.80 500.67,280.58 504.70,280.20 C508.73,279.82 508.42,278.92 510.00,278.50 C511.58,278.08 512.53,277.70 514.20,277.70 C515.87,277.72 516.32,278.28 520.00,278.60 C523.68,278.92 532.88,279.60 536.30,279.60 C539.72,279.57 539.45,278.93 540.50,278.40 C541.55,277.87 541.93,276.40 542.60,276.40 C543.27,276.43 543.58,278.08 544.50,278.60 C545.42,279.12 546.93,279.50 548.10,279.50 C549.27,279.48 550.62,279.27 551.50,278.50 C552.38,277.73 552.70,274.90 553.40,274.90 C554.10,275.15 554.85,279.48 555.70,280.00 C556.55,280.00 557.65,279.03 558.50,278.00 C559.35,276.97 560.03,273.80 560.80,273.80 C561.57,274.05 561.57,278.53 563.10,279.50 C564.63,279.60 567.28,279.60 570.00,279.60 C572.72,279.42 577.23,278.43 579.40,278.40 C581.57,278.40 581.65,279.40 583.00,279.40 C584.35,279.40 586.17,278.40 587.50,278.40 C588.83,278.43 588.50,279.42 591.00,279.60 C593.50,279.60 599.33,279.60 602.50,279.50 C605.67,279.37 608.38,279.50 610.00,278.80 C611.62,277.65 611.45,272.60 612.20,272.60 C612.95,272.60 612.20,278.03 614.50,278.80 C616.82,278.80 623.85,277.20 626.10,277.20 C628.00,277.20 626.10,278.65 628.00,278.80 C630.63,278.80 639.23,278.10 641.90,278.10 C644.00,278.10 642.98,278.78 644.00,278.80 C645.02,278.80 647.00,278.80 648.00,278.20 C649.00,277.58 649.33,275.10 650.00,275.10 C650.67,275.17 650.27,278.10 652.00,278.60 C653.73,278.60 656.23,278.10 660.40,278.10 C664.57,278.17 674.23,278.85 677.00,279.00" fill="none" stroke="#1c1cf5" stroke-width="1.55" stroke-linejoin="round"/>
<path d="M414.30,355.90 C414.42,355.62 414.63,354.23 415.00,354.20 C415.37,354.20 415.00,355.70 416.50,355.70 C420.23,355.70 433.65,354.25 437.40,354.20 C439.00,354.20 437.40,355.22 439.00,355.40 C440.62,355.40 445.71,355.32 447.10,355.30 C447.36,355.30 447.15,355.30 447.36,355.30 C447.57,349.16 448.11,330.73 448.35,318.45 C448.59,306.17 448.65,281.60 448.80,281.60 C448.95,281.60 448.98,306.17 449.25,318.45 C449.52,330.73 449.36,349.34 450.42,355.30 C451.48,355.30 454.09,355.15 455.60,354.20 C457.11,353.25 458.15,350.65 459.50,349.60 C460.85,348.55 462.48,347.90 463.70,347.90 C464.92,348.32 465.75,351.22 466.80,352.10 C467.85,352.98 469.22,353.20 470.00,353.20 C470.78,352.68 471.05,350.52 471.50,349.00 C471.95,347.48 472.28,344.10 472.70,344.10 C473.12,344.10 473.65,347.67 474.00,349.00 C474.35,350.33 474.27,351.93 474.80,352.10 C475.33,352.10 476.60,350.52 477.20,350.00 C477.80,349.48 477.92,349.00 478.40,349.00 C478.88,349.35 479.62,351.93 480.10,352.10 C480.58,352.10 480.95,350.60 481.30,350.00 C481.65,349.40 481.63,348.50 482.20,348.50 C482.77,348.95 482.20,352.10 484.70,352.70 C487.40,352.70 494.85,352.47 498.40,352.10 C501.95,351.73 503.37,351.13 506.00,350.50 C508.63,349.87 511.60,348.32 514.20,348.30 C516.80,348.30 519.85,350.28 521.60,350.40 C523.35,350.40 523.65,349.00 524.70,349.00 C525.75,349.10 525.97,350.55 527.90,351.00 C529.83,351.45 534.20,351.70 536.30,351.70 C538.40,351.20 539.45,349.17 540.50,348.00 C541.55,346.83 541.93,344.70 542.60,344.70 C543.27,344.78 543.73,347.63 544.50,348.50 C545.27,349.37 546.03,349.90 547.20,349.90 C548.37,349.73 550.48,348.70 551.50,347.50 C552.52,346.30 552.57,342.70 553.30,342.70 C554.03,343.27 555.03,350.02 555.90,350.90 C556.77,350.90 557.75,348.95 558.50,348.00 C559.25,347.05 559.57,345.20 560.40,345.20 C561.23,345.68 561.90,349.93 563.50,350.90 C565.10,351.00 567.27,351.00 570.00,351.00 C572.73,350.58 577.73,348.53 579.90,348.40 C582.07,348.40 581.65,350.20 583.00,350.20 C584.35,350.20 586.50,348.43 588.00,348.40 C589.50,348.40 589.78,349.73 592.00,350.00 C594.22,350.00 598.38,350.00 601.30,350.00 C604.22,349.63 607.92,349.13 609.50,347.80 C610.80,346.47 610.40,343.87 610.80,342.00 C611.20,340.13 611.53,336.60 611.90,336.60 C612.27,336.60 612.65,340.13 613.00,342.00 C613.35,343.87 613.00,346.92 614.00,347.80 C615.88,347.80 622.33,347.63 624.30,347.30 C625.80,346.97 625.20,345.80 625.80,345.80 C626.40,346.05 625.80,348.63 627.90,348.80 C630.12,348.80 636.92,346.97 639.10,346.80 C641.00,346.80 640.32,347.80 641.00,347.80 C641.68,347.73 642.32,346.40 643.20,346.40 C644.08,346.50 645.42,348.40 646.30,348.40 C647.18,348.25 647.88,346.52 648.50,345.50 C649.12,344.48 649.50,342.30 650.00,342.30 C650.50,342.30 651.03,344.55 651.50,345.50 C651.97,346.45 651.50,347.68 652.80,348.00 C654.32,348.00 658.57,347.40 660.60,347.40 C662.63,347.48 662.27,348.27 665.00,348.50 C667.73,348.73 675.00,348.75 677.00,348.80" fill="none" stroke="#f51c1c" stroke-width="1.55" stroke-linejoin="round"/>
<path d="M414.30,433.80 C414.50,433.53 415.05,432.20 415.50,432.20 C415.95,432.20 415.87,433.60 417.00,433.80 C418.13,433.80 419.30,433.73 422.30,433.40 C425.30,433.07 432.62,432.15 435.00,431.80 C436.60,431.45 436.10,431.30 436.60,431.30 C437.10,431.33 436.60,432.00 438.00,432.00 C439.58,431.80 444.65,430.42 446.10,430.10 C446.68,430.10 446.36,430.10 446.68,430.10 C447.00,423.93 447.68,405.43 448.00,393.10 C448.32,380.77 448.40,356.17 448.60,356.10 C448.80,356.10 448.84,380.50 449.20,392.70 C449.56,404.90 449.46,423.30 450.76,429.30 C452.06,429.30 454.76,428.87 457.00,428.70 C459.24,428.53 462.50,428.30 464.20,428.30 C465.90,428.53 466.18,430.10 467.20,430.10 C468.22,429.82 469.45,427.35 470.30,426.60 C471.15,425.85 471.62,425.60 472.30,425.60 C472.98,425.95 473.62,428.42 474.40,428.70 C475.18,428.70 476.22,427.30 477.00,427.30 C477.78,427.63 478.00,430.13 479.10,430.70 C480.20,430.70 481.50,430.70 483.60,430.70 C485.70,430.63 489.15,430.70 491.70,430.30 C494.25,429.90 497.02,428.47 498.90,428.30 C500.78,428.30 501.13,429.30 503.00,429.30 C504.87,428.85 508.57,426.48 510.10,425.60 C511.63,424.72 511.33,424.62 512.20,424.00 C513.07,423.38 514.28,421.90 515.30,421.90 C516.32,422.33 517.28,425.47 518.30,426.60 C519.32,427.73 520.38,428.58 521.40,428.70 C522.42,428.70 523.38,427.30 524.40,427.30 C525.42,427.40 525.45,428.97 527.50,429.30 C529.55,429.30 534.53,429.30 536.70,429.30 C538.87,428.75 539.53,426.92 540.50,426.00 C541.47,425.08 541.83,423.80 542.50,423.80 C543.17,424.13 543.90,427.05 544.50,428.00 C545.10,428.95 545.15,429.25 546.10,429.50 C547.05,429.50 549.25,429.50 550.20,429.50 C551.15,428.08 551.28,424.23 551.80,421.00 C552.32,417.77 552.85,410.10 553.30,410.10 C553.75,410.10 554.17,417.93 554.50,421.00 C554.83,424.07 554.82,427.08 555.30,428.50 C555.78,429.50 556.78,429.50 557.40,429.50 C558.02,428.25 558.50,423.55 559.00,421.00 C559.50,418.45 559.97,414.20 560.40,414.20 C560.83,414.20 561.18,418.62 561.60,421.00 C562.02,423.38 562.25,427.02 562.90,428.50 C563.55,429.90 562.90,429.90 565.50,429.90 C568.33,429.72 577.00,427.40 579.90,427.40 C582.80,427.43 581.55,430.02 582.90,430.10 C584.25,430.10 586.63,427.90 588.00,427.90 C589.37,427.97 588.53,430.23 591.10,430.50 C593.67,430.50 601.02,429.83 603.40,429.50 C605.40,429.17 604.38,428.77 605.40,428.50 C606.42,428.23 608.62,428.50 609.50,427.90 C610.38,426.15 610.30,421.25 610.70,418.00 C611.10,414.75 611.52,408.73 611.90,408.40 C612.28,408.40 612.65,413.50 613.00,416.00 C613.35,418.50 613.40,421.50 614.00,423.40 C614.60,425.30 614.63,426.90 616.60,427.40 C618.57,427.40 623.92,426.40 625.80,426.40 C627.68,426.82 625.80,429.55 627.90,429.90 C630.12,429.90 636.92,428.62 639.10,428.50 C641.00,428.50 640.32,429.20 641.00,429.20 C641.68,429.02 642.32,427.40 643.20,427.40 C644.08,427.52 645.42,429.88 646.30,429.90 C647.18,429.90 647.88,428.42 648.50,427.50 C649.12,426.58 649.50,424.40 650.00,424.40 C650.50,424.40 651.03,426.65 651.50,427.50 C651.97,428.35 651.50,429.17 652.80,429.50 C654.32,429.50 656.57,429.50 660.60,429.50 C664.63,429.67 674.27,430.33 677.00,430.50" fill="none" stroke="#000" stroke-width="1.60" stroke-linejoin="round"/>
<line x1="410.3" y1="143.4" x2="414.3" y2="143.4" stroke="#555" stroke-width="1"/>
<line x1="410.3" y1="290.4" x2="414.3" y2="290.4" stroke="#555" stroke-width="1"/>
<line x1="410.3" y1="437.3" x2="414.3" y2="437.3" stroke="#555" stroke-width="1"/>
<line x1="414.3" y1="437.3" x2="414.3" y2="441.3" stroke="#555" stroke-width="1"/>
<line x1="433.1" y1="437.3" x2="433.1" y2="439.3" stroke="#555" stroke-width="1"/>
<line x1="451.9" y1="437.3" x2="451.9" y2="441.3" stroke="#555" stroke-width="1"/>
<line x1="470.7" y1="437.3" x2="470.7" y2="439.3" stroke="#555" stroke-width="1"/>
<line x1="489.5" y1="437.3" x2="489.5" y2="441.3" stroke="#555" stroke-width="1"/>
<line x1="508.4" y1="437.3" x2="508.4" y2="439.3" stroke="#555" stroke-width="1"/>
<line x1="527.2" y1="437.3" x2="527.2" y2="441.3" stroke="#555" stroke-width="1"/>
<line x1="546.0" y1="437.3" x2="546.0" y2="439.3" stroke="#555" stroke-width="1"/>
<line x1="564.8" y1="437.3" x2="564.8" y2="441.3" stroke="#555" stroke-width="1"/>
<line x1="583.6" y1="437.3" x2="583.6" y2="439.3" stroke="#555" stroke-width="1"/>
<line x1="602.4" y1="437.3" x2="602.4" y2="441.3" stroke="#555" stroke-width="1"/>
<line x1="621.2" y1="437.3" x2="621.2" y2="439.3" stroke="#555" stroke-width="1"/>
<line x1="640.0" y1="437.3" x2="640.0" y2="441.3" stroke="#555" stroke-width="1"/>
<line x1="658.8" y1="437.3" x2="658.8" y2="439.3" stroke="#555" stroke-width="1"/>
<line x1="677.6" y1="437.3" x2="677.6" y2="441.3" stroke="#555" stroke-width="1"/>
<text x="414.3" y="453.8" font-size="12.5" text-anchor="middle" fill="#111" font-family="Liberation Sans, sans-serif">6</text>
<text x="451.9" y="453.8" font-size="12.5" text-anchor="middle" fill="#111" font-family="Liberation Sans, sans-serif">8</text>
<text x="489.5" y="453.8" font-size="12.5" text-anchor="middle" fill="#111" font-family="Liberation Sans, sans-serif">10</text>
<text x="527.2" y="453.8" font-size="12.5" text-anchor="middle" fill="#111" font-family="Liberation Sans, sans-serif">12</text>
<text x="564.8" y="453.8" font-size="12.5" text-anchor="middle" fill="#111" font-family="Liberation Sans, sans-serif">14</text>
<text x="602.4" y="453.8" font-size="12.5" text-anchor="middle" fill="#111" font-family="Liberation Sans, sans-serif">16</text>
<text x="640.0" y="453.8" font-size="12.5" text-anchor="middle" fill="#111" font-family="Liberation Sans, sans-serif">18</text>
<text x="677.6" y="453.8" font-size="12.5" text-anchor="middle" fill="#111" font-family="Liberation Sans, sans-serif">20</text>
<text x="407" y="147.3" font-size="12.9" text-anchor="end" fill="#111" font-family="Liberation Sans, sans-serif">2.0E4</text>
<text x="407.2" y="441.2" font-size="12.9" text-anchor="end" fill="#111" font-family="Liberation Sans, sans-serif">0.0</text>
<text x="556.2" y="468" font-size="13.1" text-anchor="middle" fill="#111" font-family="Liberation Sans, sans-serif">Elution time (min)</text>
<text transform="translate(395.4,260) rotate(-90)" font-size="13.1" text-anchor="middle" fill="#111" font-family="Liberation Sans, sans-serif">Absorbance (mAU)</text>
<text x="389.5" y="23" font-size="12" fill="#111" font-family="Liberation Sans, sans-serif">B</text>
<text x="673.5" y="70.2" font-size="9.2" text-anchor="end" fill="#222" font-family="Liberation Sans, sans-serif">MFGM-1 mM PS20</text>
<text x="673.5" y="93.1" font-size="9.2" text-anchor="end" fill="#222" font-family="Liberation Sans, sans-serif">MFGM-1 mM DTAB</text>
<text x="673.5" y="120.9" font-size="9.2" text-anchor="end" fill="#222" font-family="Liberation Sans, sans-serif">MFGM-1 mM SDS</text>
<text x="669.5" y="202.0" font-size="9.2" text-anchor="end" fill="#222" font-family="Liberation Sans, sans-serif">MFGM 80 °C</text>
<text x="669.5" y="267.3" font-size="9.2" text-anchor="end" fill="#222" font-family="Liberation Sans, sans-serif">MFGM 60 °C</text>
<text x="669.5" y="334.1" font-size="9.2" text-anchor="end" fill="#222" font-family="Liberation Sans, sans-serif">MFGM 40 °C</text>
<text x="669.5" y="376.3" font-size="9.2" text-anchor="end" fill="#222" font-family="Liberation Sans, sans-serif">MFGM 20 °C</text>
<text x="415.1" y="373.9" font-size="9.2" fill="#111" font-family="Liberation Sans, sans-serif">αs2-CN</text>
<text x="451.9" y="385.0" font-size="9.2" fill="#111" font-family="Liberation Sans, sans-serif">XO/XDH</text>
<text x="471.3" y="400.7" font-size="9.2" fill="#111" font-family="Liberation Sans, sans-serif">LTF</text>
<text x="504.0" y="397.3" font-size="9.2" fill="#111" font-family="Liberation Sans, sans-serif">BTN</text>
<text x="540.0" y="388.8" font-size="9.2" fill="#111" font-family="Liberation Sans, sans-serif">αs1-CN</text>
<text x="575.8" y="397.0" font-size="9.2" fill="#111" font-family="Liberation Sans, sans-serif">β-CN</text>
<text x="605.4" y="404.2" font-size="9.2" fill="#111" font-family="Liberation Sans, sans-serif">β-LG</text>
<text x="643.2" y="420.5" font-size="9.2" fill="#111" font-family="Liberation Sans, sans-serif">α-LA</text>
<text x="415.7" y="411.1" font-size="9.2" fill="#111" font-family="Liberation Sans, sans-serif">κ-CN</text>
<line x1="435.5" y1="377.6" x2="441.7" y2="389.9" stroke="#111" stroke-width="0.7"/>
<path d="M441.7,389.9 L438.4,386.9 L441.2,385.4 Z" fill="#111"/>
<line x1="463.5" y1="387.8" x2="463.5" y2="421.5" stroke="#111" stroke-width="0.7"/>
<path d="M463.5,421.5 L461.9,417.3 L465.1,417.3 Z" fill="#111"/>
<line x1="479.1" y1="403.5" x2="479.1" y2="424.0" stroke="#111" stroke-width="0.7"/>
<path d="M479.1,424.0 L477.5,419.8 L480.7,419.8 Z" fill="#111"/>
<line x1="514.6" y1="402.1" x2="514.6" y2="420.5" stroke="#111" stroke-width="0.7"/>
<path d="M514.6,420.5 L513.0,416.3 L516.2,416.3 Z" fill="#111"/>
<line x1="553.9" y1="392.7" x2="553.9" y2="406.0" stroke="#111" stroke-width="0.7"/>
<path d="M553.9,406.0 L552.3,401.8 L555.5,401.8 Z" fill="#111"/>
<line x1="572.7" y1="398.8" x2="563.5" y2="413.1" stroke="#111" stroke-width="0.7"/>
<path d="M563.5,413.1 L564.4,408.7 L567.1,410.4 Z" fill="#111"/>
<line x1="424.7" y1="413.8" x2="417.2" y2="427.3" stroke="#111" stroke-width="0.7"/>
<path d="M417.2,427.3 L417.8,422.9 L420.6,424.4 Z" fill="#111"/>
</svg>
</body></html>
